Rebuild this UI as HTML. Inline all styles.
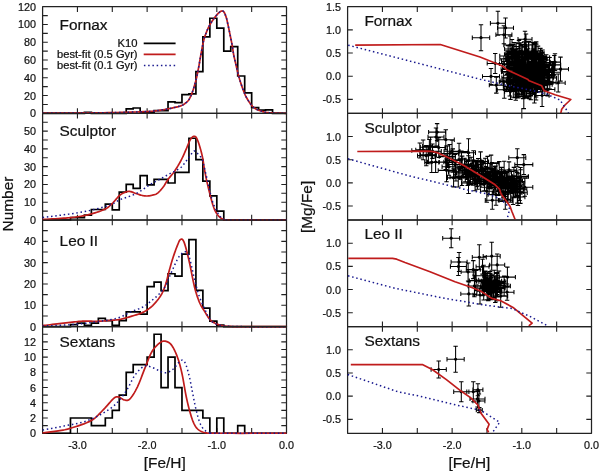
<!DOCTYPE html>
<html><head><meta charset="utf-8"><title>Chemical evolution fits</title>
<style>
html,body{margin:0;padding:0;background:#fff;width:600px;height:472px;overflow:hidden}
svg{display:block;font-family:"Liberation Sans", sans-serif;will-change:transform}
text{font-family:"Liberation Sans", sans-serif;stroke:#111;stroke-width:0.22px;paint-order:stroke}
</style></head><body>
<svg width="600" height="472" viewBox="0 0 600 472" font-family='"Liberation Sans", sans-serif' fill="#111" stroke="none">
<rect width="600" height="472" fill="#fff"/>
<rect x="42.6" y="6.7" width="243.9" height="106.63" fill="none" stroke="#222" stroke-width="1.25" stroke-linejoin="round"/>
<path d="M42.6 104.44h5.2M286.5 104.44h-5.2M42.6 95.56h5.2M286.5 95.56h-5.2M42.6 86.67h5.2M286.5 86.67h-5.2M42.6 77.79h5.2M286.5 77.79h-5.2M42.6 68.9h5.2M286.5 68.9h-5.2M42.6 60.02h5.2M286.5 60.02h-5.2M42.6 51.13h5.2M286.5 51.13h-5.2M42.6 42.24h5.2M286.5 42.24h-5.2M42.6 33.36h5.2M286.5 33.36h-5.2M42.6 24.47h5.2M286.5 24.47h-5.2M42.6 15.59h5.2M286.5 15.59h-5.2M77.44 113.33v-5.2M77.44 6.7v5.2M112.29 113.33v-5.2M112.29 6.7v5.2M147.13 113.33v-5.2M147.13 6.7v5.2M181.97 113.33v-5.2M181.97 6.7v5.2M216.81 113.33v-5.2M216.81 6.7v5.2M251.66 113.33v-5.2M251.66 6.7v5.2" stroke="#222" stroke-width="1.1" fill="none"/>
<text x="36" y="117.33" font-size="10.8" text-anchor="end">0</text>
<text x="36" y="99.56" font-size="10.8" text-anchor="end">20</text>
<text x="36" y="81.79" font-size="10.8" text-anchor="end">40</text>
<text x="36" y="64.02" font-size="10.8" text-anchor="end">60</text>
<text x="36" y="46.24" font-size="10.8" text-anchor="end">80</text>
<text x="36" y="28.47" font-size="10.8" text-anchor="end">100</text>
<text x="36" y="10.7" font-size="10.8" text-anchor="end">120</text>
<text x="59.6" y="29.8" font-size="15.4" text-anchor="start">Fornax</text>
<path d="M42.6 113.33 L84.41 113.33 L84.41 112.44 L91.38 112.44 L91.38 113.33 L126.22 113.33 L126.22 108.89 L133.19 108.89 L133.19 108 L140.16 108 L140.16 112.44 L154.1 112.44 L154.1 110.66 L168.03 110.66 L168.03 101.78 L175 101.78 L175 102.67 L181.97 102.67 L181.97 94.67 L188.94 94.67 L188.94 93.78 L195.91 93.78 L195.91 71.57 L202.88 71.57 L202.88 36.91 L209.85 36.91 L209.85 18.25 L216.81 18.25 L216.81 28.03 L223.78 28.03 L223.78 51.13 L230.75 51.13 L230.75 46.69 L237.72 46.69 L237.72 76.01 L244.69 76.01 L244.69 92.89 L251.66 92.89 L251.66 107.55 L258.63 107.55 L258.63 110.22 L265.59 110.22 L265.59 109.78 L272.56 109.78 L272.56 113.33 L286.5 113.33" fill="none" stroke="#000" stroke-width="1.7" stroke-linejoin="miter"/>
<path d="M42.6 113.15 L45.29 113.14 L48.86 113.12 L53.11 113.11 L57.84 113.09 L62.85 113.06 L67.92 113.04 L72.85 113.01 L77.44 112.97 L81.8 112.94 L86.15 112.91 L90.51 112.89 L94.86 112.85 L99.22 112.81 L103.57 112.76 L107.93 112.7 L112.29 112.62 L116.78 112.52 L121.49 112.41 L126.27 112.29 L131.01 112.15 L135.59 112.01 L139.89 111.86 L143.77 111.71 L147.13 111.55 L149.87 111.4 L152.08 111.25 L153.89 111.1 L155.4 110.95 L156.76 110.78 L158.07 110.59 L159.47 110.38 L161.07 110.13 L162.86 109.85 L164.71 109.52 L166.6 109.16 L168.47 108.79 L170.29 108.42 L172.01 108.05 L173.59 107.7 L175 107.38 L176.23 107.09 L177.32 106.82 L178.28 106.57 L179.14 106.32 L179.92 106.08 L180.64 105.84 L181.31 105.59 L181.97 105.33 L182.57 105.07 L183.09 104.82 L183.53 104.57 L183.93 104.32 L184.3 104.05 L184.67 103.76 L185.04 103.45 L185.46 103.11 L185.89 102.76 L186.33 102.41 L186.76 102.05 L187.2 101.67 L187.63 101.24 L188.07 100.76 L188.5 100.2 L188.94 99.56 L189.38 98.83 L189.81 98.04 L190.25 97.19 L190.68 96.28 L191.12 95.3 L191.55 94.27 L191.99 93.17 L192.42 92 L192.86 90.76 L193.31 89.44 L193.76 88.04 L194.21 86.59 L194.65 85.09 L195.09 83.56 L195.51 82.01 L195.91 80.45 L196.3 78.86 L196.67 77.21 L197.04 75.52 L197.39 73.81 L197.73 72.1 L198.06 70.4 L198.39 68.73 L198.7 67.12 L198.99 65.58 L199.25 64.1 L199.5 62.66 L199.74 61.23 L199.98 59.79 L200.23 58.32 L200.5 56.81 L200.79 55.22 L201.1 53.52 L201.43 51.71 L201.77 49.85 L202.11 47.96 L202.47 46.09 L202.84 44.28 L203.2 42.57 L203.57 41 L203.94 39.58 L204.31 38.27 L204.68 37.05 L205.05 35.89 L205.44 34.78 L205.84 33.69 L206.27 32.6 L206.71 31.49 L207.17 30.37 L207.65 29.26 L208.15 28.17 L208.66 27.09 L209.19 26.03 L209.74 24.99 L210.3 23.97 L210.89 22.96 L211.52 21.96 L212.2 20.94 L212.91 19.93 L213.64 18.95 L214.36 18 L215.04 17.12 L215.68 16.3 L216.26 15.59 L216.76 14.97 L217.21 14.43 L217.62 13.97 L217.99 13.56 L218.35 13.21 L218.7 12.89 L219.04 12.59 L219.39 12.3 L219.75 12.02 L220.1 11.76 L220.45 11.54 L220.78 11.34 L221.11 11.18 L221.43 11.07 L221.74 10.99 L222.04 10.97 L222.33 10.98 L222.6 11.02 L222.86 11.09 L223.12 11.22 L223.37 11.39 L223.62 11.62 L223.87 11.92 L224.13 12.3 L224.4 12.77 L224.68 13.32 L224.96 13.96 L225.25 14.65 L225.52 15.38 L225.79 16.13 L226.05 16.88 L226.29 17.63 L226.51 18.35 L226.7 19.05 L226.88 19.76 L227.05 20.5 L227.23 21.27 L227.41 22.1 L227.6 23.02 L227.82 24.03 L228.07 25.16 L228.34 26.4 L228.62 27.72 L228.9 29.1 L229.2 30.51 L229.49 31.93 L229.78 33.33 L230.05 34.69 L230.33 36.02 L230.6 37.36 L230.87 38.7 L231.14 40.03 L231.4 41.36 L231.66 42.68 L231.91 43.98 L232.15 45.26 L232.37 46.53 L232.57 47.77 L232.76 49 L232.94 50.22 L233.13 51.43 L233.32 52.64 L233.52 53.84 L233.75 55.04 L233.99 56.24 L234.26 57.45 L234.53 58.66 L234.81 59.86 L235.1 61.05 L235.38 62.21 L235.65 63.35 L235.91 64.46 L236.14 65.51 L236.36 66.52 L236.57 67.48 L236.77 68.43 L236.98 69.39 L237.21 70.36 L237.45 71.38 L237.72 72.46 L238.01 73.58 L238.32 74.73 L238.63 75.91 L238.97 77.12 L239.32 78.36 L239.69 79.62 L240.09 80.91 L240.51 82.23 L240.97 83.62 L241.47 85.11 L242 86.65 L242.55 88.2 L243.11 89.73 L243.66 91.2 L244.19 92.56 L244.69 93.78 L245.16 94.86 L245.61 95.83 L246.05 96.72 L246.47 97.53 L246.9 98.29 L247.32 99.02 L247.74 99.73 L248.17 100.45 L248.61 101.15 L249.04 101.83 L249.48 102.49 L249.91 103.11 L250.35 103.71 L250.79 104.28 L251.22 104.82 L251.66 105.33 L252.09 105.82 L252.53 106.27 L252.96 106.69 L253.4 107.08 L253.83 107.45 L254.27 107.8 L254.71 108.13 L255.14 108.44 L255.55 108.73 L255.93 108.97 L256.29 109.2 L256.67 109.4 L257.06 109.59 L257.51 109.79 L258.02 109.99 L258.63 110.22 L259.33 110.47 L260.12 110.74 L260.98 111.03 L261.89 111.31 L262.83 111.58 L263.77 111.84 L264.7 112.07 L265.59 112.26 L266.42 112.42 L267.17 112.54 L267.9 112.64 L268.64 112.72 L269.44 112.79 L270.33 112.85 L271.36 112.91 L272.56 112.97 L274.07 113.04 L275.88 113.1 L277.89 113.15 L279.97 113.2 L281.99 113.24 L283.83 113.27 L285.38 113.31 L286.5 113.33" fill="none" stroke="#c01c1c" stroke-width="1.7"/>
<path d="M42.6 113.15 L45.29 113.14 L48.86 113.12 L53.11 113.11 L57.84 113.09 L62.85 113.06 L67.92 113.04 L72.85 113.01 L77.44 112.97 L81.8 112.94 L86.15 112.91 L90.51 112.89 L94.86 112.85 L99.22 112.81 L103.57 112.76 L107.93 112.7 L112.29 112.62 L116.78 112.52 L121.49 112.41 L126.27 112.29 L131.01 112.15 L135.59 112.01 L139.89 111.86 L143.77 111.71 L147.13 111.55 L149.87 111.4 L152.08 111.25 L153.89 111.1 L155.4 110.95 L156.76 110.78 L158.07 110.59 L159.47 110.38 L161.07 110.13 L162.86 109.85 L164.71 109.52 L166.6 109.16 L168.47 108.79 L170.29 108.42 L172.01 108.05 L173.59 107.7 L175 107.38 L176.23 107.09 L177.32 106.82 L178.28 106.57 L179.14 106.32 L179.92 106.08 L180.64 105.84 L181.31 105.59 L181.97 105.33 L182.57 105.07 L183.09 104.82 L183.53 104.57 L183.93 104.32 L184.3 104.05 L184.67 103.76 L185.04 103.45 L185.46 103.11 L185.89 102.76 L186.33 102.41 L186.76 102.05 L187.2 101.67 L187.63 101.24 L188.07 100.76 L188.5 100.2 L188.94 99.56 L189.38 98.83 L189.81 98.04 L190.25 97.19 L190.68 96.28 L191.12 95.3 L191.55 94.27 L191.99 93.17 L192.42 92 L192.86 90.76 L193.31 89.44 L193.76 88.04 L194.21 86.59 L194.65 85.09 L195.09 83.56 L195.51 82.01 L195.91 80.45 L196.3 78.86 L196.67 77.21 L197.04 75.52 L197.39 73.81 L197.73 72.1 L198.06 70.4 L198.39 68.73 L198.7 67.12 L198.99 65.58 L199.25 64.1 L199.5 62.66 L199.74 61.23 L199.98 59.79 L200.23 58.32 L200.5 56.81 L200.79 55.22 L201.1 53.52 L201.43 51.71 L201.77 49.85 L202.11 47.96 L202.47 46.09 L202.84 44.28 L203.2 42.57 L203.57 41 L203.94 39.58 L204.31 38.27 L204.68 37.05 L205.05 35.89 L205.44 34.78 L205.84 33.69 L206.27 32.6 L206.71 31.49 L207.17 30.37 L207.65 29.26 L208.15 28.17 L208.66 27.09 L209.19 26.03 L209.74 24.99 L210.3 23.97 L210.89 22.96 L211.52 21.96 L212.2 20.94 L212.91 19.93 L213.64 18.95 L214.36 18 L215.04 17.12 L215.68 16.3 L216.26 15.59 L216.76 14.97 L217.21 14.43 L217.62 13.97 L217.99 13.56 L218.35 13.21 L218.7 12.89 L219.04 12.59 L219.39 12.3 L219.75 12.02 L220.1 11.76 L220.45 11.54 L220.78 11.34 L221.11 11.18 L221.43 11.07 L221.74 10.99 L222.04 10.97 L222.33 10.98 L222.6 11.02 L222.86 11.09 L223.12 11.22 L223.37 11.39 L223.62 11.62 L223.87 11.92 L224.13 12.3 L224.4 12.77 L224.68 13.32 L224.96 13.96 L225.25 14.65 L225.52 15.38 L225.79 16.13 L226.05 16.88 L226.29 17.63 L226.51 18.35 L226.7 19.05 L226.88 19.76 L227.05 20.5 L227.23 21.27 L227.41 22.1 L227.6 23.02 L227.82 24.03 L228.07 25.16 L228.34 26.4 L228.62 27.72 L228.9 29.1 L229.2 30.51 L229.49 31.93 L229.78 33.33 L230.05 34.69 L230.33 36.02 L230.6 37.36 L230.87 38.7 L231.14 40.03 L231.4 41.36 L231.66 42.68 L231.91 43.98 L232.15 45.26 L232.37 46.53 L232.57 47.77 L232.76 49 L232.94 50.22 L233.13 51.43 L233.32 52.64 L233.52 53.84 L233.75 55.04 L233.99 56.24 L234.26 57.45 L234.53 58.66 L234.81 59.86 L235.1 61.05 L235.38 62.21 L235.65 63.35 L235.91 64.46 L236.14 65.51 L236.36 66.52 L236.57 67.48 L236.77 68.43 L236.98 69.39 L237.21 70.36 L237.45 71.38 L237.72 72.46 L238.01 73.58 L238.32 74.73 L238.63 75.91 L238.97 77.12 L239.32 78.36 L239.69 79.62 L240.09 80.91 L240.51 82.23 L240.97 83.62 L241.47 85.11 L242 86.65 L242.55 88.2 L243.11 89.73 L243.66 91.2 L244.19 92.56 L244.69 93.78 L245.16 94.86 L245.61 95.83 L246.05 96.72 L246.47 97.53 L246.9 98.29 L247.32 99.02 L247.74 99.73 L248.17 100.45 L248.61 101.15 L249.04 101.83 L249.48 102.49 L249.91 103.11 L250.35 103.71 L250.79 104.28 L251.22 104.82 L251.66 105.33 L252.09 105.82 L252.53 106.27 L252.96 106.69 L253.4 107.08 L253.83 107.45 L254.27 107.8 L254.71 108.13 L255.14 108.44 L255.55 108.73 L255.93 108.97 L256.29 109.2 L256.67 109.4 L257.06 109.59 L257.51 109.79 L258.02 109.99 L258.63 110.22 L259.33 110.47 L260.12 110.74 L260.98 111.03 L261.89 111.31 L262.83 111.58 L263.77 111.84 L264.7 112.07 L265.59 112.26 L266.42 112.42 L267.17 112.54 L267.9 112.64 L268.64 112.72 L269.44 112.79 L270.33 112.85 L271.36 112.91 L272.56 112.97 L274.07 113.04 L275.88 113.1 L277.89 113.15 L279.97 113.2 L281.99 113.24 L283.83 113.27 L285.38 113.31 L286.5 113.33" fill="none" stroke="#18188e" stroke-width="1.5" stroke-dasharray="1.5 2.75"/>
<rect x="42.6" y="113.35" width="243.9" height="106.63" fill="none" stroke="#222" stroke-width="1.25" stroke-linejoin="round"/>
<path d="M42.6 211.09h5.2M286.5 211.09h-5.2M42.6 202.21h5.2M286.5 202.21h-5.2M42.6 193.32h5.2M286.5 193.32h-5.2M42.6 184.44h5.2M286.5 184.44h-5.2M42.6 175.55h5.2M286.5 175.55h-5.2M42.6 166.66h5.2M286.5 166.66h-5.2M42.6 157.78h5.2M286.5 157.78h-5.2M42.6 148.89h5.2M286.5 148.89h-5.2M42.6 140.01h5.2M286.5 140.01h-5.2M42.6 131.12h5.2M286.5 131.12h-5.2M42.6 122.24h5.2M286.5 122.24h-5.2M77.44 219.98v-5.2M77.44 113.35v5.2M112.29 219.98v-5.2M112.29 113.35v5.2M147.13 219.98v-5.2M147.13 113.35v5.2M181.97 219.98v-5.2M181.97 113.35v5.2M216.81 219.98v-5.2M216.81 113.35v5.2M251.66 219.98v-5.2M251.66 113.35v5.2" stroke="#222" stroke-width="1.1" fill="none"/>
<text x="36" y="223.98" font-size="10.8" text-anchor="end">0</text>
<text x="36" y="206.21" font-size="10.8" text-anchor="end">10</text>
<text x="36" y="188.44" font-size="10.8" text-anchor="end">20</text>
<text x="36" y="170.66" font-size="10.8" text-anchor="end">30</text>
<text x="36" y="152.89" font-size="10.8" text-anchor="end">40</text>
<text x="36" y="135.12" font-size="10.8" text-anchor="end">50</text>
<text x="59.6" y="136.4" font-size="15.4" text-anchor="start">Sculptor</text>
<path d="M42.6 219.98 L70.47 219.98 L70.47 217.67 L84.41 217.67 L84.41 215.18 L91.38 215.18 L91.38 209.49 L105.32 209.49 L105.32 204.16 L112.29 204.16 L112.29 209.85 L119.25 209.85 L119.25 192.08 L126.22 192.08 L126.22 184.44 L133.19 184.44 L133.19 188.35 L140.16 188.35 L140.16 175.55 L147.13 175.55 L147.13 184.79 L154.1 184.79 L154.1 179.46 L168.03 179.46 L168.03 183.01 L175 183.01 L175 172.35 L188.94 172.35 L188.94 138.23 L195.91 138.23 L195.91 159.56 L202.88 159.56 L202.88 181.06 L209.85 181.06 L209.85 195.81 L216.81 195.81 L216.81 211.09 L223.78 211.09 L223.78 219.98 L286.5 219.98" fill="none" stroke="#000" stroke-width="1.7" stroke-linejoin="miter"/>
<path d="M42.6 219.45 L44.26 219.35 L46.52 219.23 L49.21 219.08 L52.18 218.91 L55.26 218.74 L58.28 218.56 L61.08 218.38 L63.51 218.2 L65.58 218.04 L67.48 217.89 L69.24 217.75 L70.91 217.59 L72.52 217.43 L74.12 217.24 L75.75 217.03 L77.44 216.78 L79.18 216.51 L80.93 216.22 L82.67 215.91 L84.41 215.58 L86.15 215.22 L87.9 214.83 L89.64 214.4 L91.38 213.94 L93.17 213.42 L95.03 212.86 L96.91 212.25 L98.78 211.62 L100.6 210.96 L102.32 210.29 L103.91 209.62 L105.32 208.96 L106.52 208.32 L107.53 207.69 L108.41 207.06 L109.19 206.42 L109.93 205.75 L110.66 205.04 L111.43 204.28 L112.29 203.45 L113.22 202.51 L114.19 201.44 L115.17 200.3 L116.16 199.13 L117.15 197.98 L118.12 196.89 L119.05 195.92 L119.95 195.1 L120.82 194.43 L121.67 193.87 L122.5 193.4 L123.3 193 L124.09 192.67 L124.83 192.38 L125.55 192.13 L126.22 191.9 L126.84 191.7 L127.38 191.56 L127.88 191.46 L128.36 191.4 L128.83 191.38 L129.31 191.41 L129.83 191.46 L130.4 191.55 L131.03 191.68 L131.68 191.87 L132.36 192.11 L133.06 192.38 L133.78 192.67 L134.5 192.96 L135.24 193.24 L135.98 193.5 L136.74 193.75 L137.53 194.02 L138.34 194.3 L139.16 194.57 L139.97 194.83 L140.76 195.07 L141.53 195.28 L142.25 195.46 L142.92 195.6 L143.55 195.72 L144.15 195.82 L144.73 195.9 L145.31 195.95 L145.89 195.99 L146.5 196 L147.13 195.99 L147.8 195.95 L148.49 195.89 L149.2 195.81 L149.92 195.7 L150.63 195.57 L151.34 195.43 L152.04 195.27 L152.7 195.1 L153.34 194.93 L153.96 194.78 L154.55 194.62 L155.14 194.44 L155.73 194.22 L156.33 193.95 L156.94 193.59 L157.58 193.14 L158.25 192.6 L158.94 191.96 L159.65 191.26 L160.36 190.49 L161.08 189.68 L161.79 188.83 L162.48 187.97 L163.16 187.1 L163.8 186.21 L164.42 185.28 L165.02 184.31 L165.62 183.31 L166.22 182.31 L166.84 181.29 L167.49 180.28 L168.17 179.28 L168.9 178.31 L169.66 177.36 L170.45 176.41 L171.26 175.46 L172.07 174.49 L172.89 173.48 L173.71 172.41 L174.52 171.29 L175.32 170.09 L176.14 168.83 L176.96 167.52 L177.79 166.18 L178.6 164.8 L179.4 163.41 L180.18 162.02 L180.93 160.62 L181.65 159.21 L182.35 157.75 L183.04 156.27 L183.71 154.78 L184.37 153.3 L185 151.84 L185.62 150.43 L186.22 149.07 L186.8 147.73 L187.36 146.38 L187.89 145.05 L188.41 143.75 L188.92 142.52 L189.42 141.38 L189.91 140.35 L190.4 139.47 L190.9 138.73 L191.39 138.1 L191.87 137.57 L192.35 137.14 L192.81 136.8 L193.26 136.55 L193.69 136.38 L194.1 136.28 L194.47 136.24 L194.82 136.28 L195.14 136.4 L195.46 136.61 L195.76 136.91 L196.07 137.3 L196.4 137.8 L196.74 138.41 L197.12 139.15 L197.51 140.04 L197.91 141.05 L198.31 142.15 L198.72 143.32 L199.12 144.52 L199.51 145.73 L199.88 146.94 L200.24 148.14 L200.59 149.37 L200.93 150.63 L201.27 151.91 L201.6 153.24 L201.92 154.59 L202.23 155.99 L202.53 157.42 L202.81 158.9 L203.07 160.41 L203.31 161.95 L203.54 163.53 L203.78 165.15 L204.04 166.8 L204.31 168.49 L204.62 170.22 L204.94 171.96 L205.27 173.7 L205.61 175.46 L205.97 177.26 L206.35 179.13 L206.78 181.08 L207.24 183.14 L207.76 185.33 L208.34 187.75 L208.99 190.43 L209.7 193.28 L210.43 196.18 L211.18 199.03 L211.93 201.74 L212.65 204.2 L213.33 206.3 L213.97 208.05 L214.58 209.56 L215.18 210.85 L215.77 211.98 L216.36 212.98 L216.96 213.88 L217.57 214.72 L218.21 215.54 L218.86 216.3 L219.52 216.97 L220.19 217.54 L220.86 218.04 L221.56 218.46 L222.27 218.83 L223.01 219.16 L223.78 219.45 L224.25 219.68 L224.28 219.83 L224.15 219.92 L224.13 219.96 L224.5 219.97 L225.55 219.96 L227.54 219.96 L230.75 219.98 L235.77 220.01 L242.57 220.02 L250.53 220.02 L259.06 220.01 L267.53 220 L275.34 219.99 L281.87 219.98 L286.5 219.98" fill="none" stroke="#c01c1c" stroke-width="1.7"/>
<path d="M42.6 217.49 L45.38 217.13 L49.19 216.66 L53.73 216.09 L58.71 215.46 L63.87 214.79 L68.9 214.12 L73.52 213.47 L77.44 212.87 L80.77 212.31 L83.81 211.75 L86.61 211.19 L89.2 210.64 L91.63 210.09 L93.94 209.53 L96.16 208.98 L98.35 208.43 L100.47 207.87 L102.47 207.31 L104.36 206.75 L106.14 206.2 L107.82 205.64 L109.41 205.08 L110.89 204.53 L112.29 203.99 L113.49 203.46 L114.45 202.95 L115.25 202.45 L115.99 201.95 L116.74 201.44 L117.59 200.91 L118.64 200.34 L119.95 199.72 L121.57 199.07 L123.44 198.39 L125.47 197.69 L127.62 196.97 L129.81 196.2 L131.97 195.41 L134.05 194.56 L135.98 193.68 L137.78 192.71 L139.54 191.66 L141.26 190.55 L142.93 189.41 L144.56 188.27 L146.15 187.16 L147.7 186.11 L149.22 185.15 L150.7 184.27 L152.12 183.44 L153.51 182.66 L154.86 181.92 L156.18 181.2 L157.48 180.49 L158.75 179.8 L160.02 179.11 L161.28 178.41 L162.52 177.72 L163.75 177.04 L164.95 176.38 L166.12 175.74 L167.27 175.12 L168.37 174.52 L169.43 173.95 L170.45 173.41 L171.43 172.91 L172.39 172.42 L173.3 171.96 L174.19 171.52 L175.03 171.08 L175.84 170.65 L176.61 170.22 L177.32 169.81 L177.99 169.43 L178.61 169.07 L179.19 168.72 L179.76 168.35 L180.31 167.96 L180.86 167.52 L181.41 167.02 L181.98 166.45 L182.53 165.82 L183.07 165.15 L183.61 164.44 L184.14 163.73 L184.65 163.02 L185.16 162.34 L185.66 161.69 L186.15 161.08 L186.63 160.5 L187.09 159.94 L187.55 159.38 L188 158.82 L188.45 158.26 L188.9 157.68 L189.36 157.07 L189.83 156.4 L190.32 155.67 L190.81 154.91 L191.3 154.15 L191.78 153.42 L192.24 152.75 L192.66 152.18 L193.05 151.74 L193.4 151.43 L193.71 151.22 L194 151.09 L194.27 151.04 L194.51 151.04 L194.75 151.07 L194.98 151.14 L195.21 151.2 L195.42 151.29 L195.6 151.42 L195.76 151.58 L195.92 151.78 L196.08 152.01 L196.26 152.25 L196.48 152.52 L196.74 152.8 L197.06 153.1 L197.43 153.42 L197.82 153.75 L198.24 154.11 L198.67 154.5 L199.09 154.91 L199.5 155.35 L199.88 155.82 L200.23 156.27 L200.55 156.65 L200.86 157.02 L201.16 157.45 L201.47 157.96 L201.79 158.63 L202.14 159.5 L202.53 160.62 L202.93 161.98 L203.35 163.5 L203.77 165.19 L204.22 167.05 L204.69 169.08 L205.2 171.26 L205.76 173.59 L206.36 176.08 L207.02 178.88 L207.74 182.04 L208.5 185.45 L209.3 188.97 L210.12 192.48 L210.96 195.85 L211.8 198.96 L212.63 201.68 L213.48 204.05 L214.36 206.23 L215.26 208.23 L216.16 210.05 L217.06 211.7 L217.94 213.19 L218.79 214.52 L219.6 215.71 L220.37 216.71 L221.09 217.49 L221.79 218.08 L222.48 218.52 L223.15 218.86 L223.82 219.13 L224.49 219.38 L225.18 219.62 L225.53 219.84 L225.39 219.97 L225.06 220.03 L224.83 220.05 L224.99 220.03 L225.83 220 L227.65 219.98 L230.75 219.98 L235.7 220 L242.47 220 L250.43 220.01 L258.97 220 L267.47 220 L275.31 219.99 L281.86 219.98 L286.5 219.98" fill="none" stroke="#18188e" stroke-width="1.5" stroke-dasharray="1.5 2.75"/>
<rect x="42.6" y="220" width="243.9" height="106.63" fill="none" stroke="#222" stroke-width="1.25" stroke-linejoin="round"/>
<path d="M42.6 315.97h5.2M286.5 315.97h-5.2M42.6 305.3h5.2M286.5 305.3h-5.2M42.6 294.64h5.2M286.5 294.64h-5.2M42.6 283.98h5.2M286.5 283.98h-5.2M42.6 273.31h5.2M286.5 273.31h-5.2M42.6 262.65h5.2M286.5 262.65h-5.2M42.6 251.99h5.2M286.5 251.99h-5.2M42.6 241.33h5.2M286.5 241.33h-5.2M42.6 230.66h5.2M286.5 230.66h-5.2M77.44 326.63v-5.2M77.44 220v5.2M112.29 326.63v-5.2M112.29 220v5.2M147.13 326.63v-5.2M147.13 220v5.2M181.97 326.63v-5.2M181.97 220v5.2M216.81 326.63v-5.2M216.81 220v5.2M251.66 326.63v-5.2M251.66 220v5.2" stroke="#222" stroke-width="1.1" fill="none"/>
<text x="36" y="330.63" font-size="10.8" text-anchor="end">0</text>
<text x="36" y="309.3" font-size="10.8" text-anchor="end">10</text>
<text x="36" y="287.98" font-size="10.8" text-anchor="end">20</text>
<text x="36" y="266.65" font-size="10.8" text-anchor="end">30</text>
<text x="36" y="245.33" font-size="10.8" text-anchor="end">40</text>
<text x="59.6" y="246.4" font-size="15.4" text-anchor="start">Leo II</text>
<path d="M42.6 326.63 L70.47 326.63 L70.47 324.71 L77.44 324.71 L77.44 323.22 L84.41 323.22 L84.41 325.35 L91.38 325.35 L91.38 323.22 L98.35 323.22 L98.35 318.31 L105.32 318.31 L105.32 320.66 L112.29 320.66 L112.29 325.35 L119.25 325.35 L119.25 320.66 L126.22 320.66 L126.22 311.92 L140.16 311.92 L140.16 314.05 L147.13 314.05 L147.13 286.54 L154.1 286.54 L154.1 282.06 L161.07 282.06 L161.07 290.59 L168.03 290.59 L168.03 273.74 L175 273.74 L175 276.09 L181.97 276.09 L181.97 254.12 L188.94 254.12 L188.94 239.62 L195.91 239.62 L195.91 290.38 L202.88 290.38 L202.88 308.08 L209.85 308.08 L209.85 321.09 L216.81 321.09 L216.81 325.14 L223.78 325.14 L223.78 326.63 L286.5 326.63" fill="none" stroke="#000" stroke-width="1.7" stroke-linejoin="miter"/>
<path d="M42.6 325.56 L43.89 325.42 L45.61 325.22 L47.65 324.98 L49.92 324.72 L52.32 324.45 L54.75 324.17 L57.12 323.9 L59.32 323.64 L61.46 323.4 L63.67 323.13 L65.9 322.87 L68.12 322.6 L70.29 322.35 L72.36 322.11 L74.29 321.9 L76.05 321.73 L77.59 321.58 L78.93 321.46 L80.13 321.35 L81.23 321.27 L82.3 321.21 L83.38 321.16 L84.53 321.12 L85.81 321.09 L87.17 321.08 L88.55 321.11 L89.97 321.16 L91.42 321.22 L92.91 321.27 L94.45 321.32 L96.02 321.33 L97.65 321.3 L99.4 321.22 L101.28 321.12 L103.24 320.98 L105.23 320.83 L107.19 320.67 L109.05 320.51 L110.77 320.36 L112.29 320.23 L113.55 320.13 L114.59 320.06 L115.49 320 L116.29 319.94 L117.08 319.86 L117.9 319.75 L118.84 319.6 L119.95 319.38 L121.23 319.1 L122.63 318.76 L124.1 318.39 L125.63 317.98 L127.2 317.55 L128.76 317.09 L130.3 316.64 L131.8 316.18 L133.27 315.73 L134.75 315.29 L136.23 314.84 L137.7 314.37 L139.15 313.87 L140.58 313.34 L141.96 312.76 L143.3 312.13 L144.58 311.45 L145.82 310.75 L147.02 310.01 L148.2 309.22 L149.34 308.39 L150.47 307.5 L151.59 306.54 L152.7 305.52 L153.82 304.4 L154.96 303.18 L156.08 301.89 L157.19 300.55 L158.26 299.17 L159.27 297.78 L160.21 296.41 L161.07 295.07 L161.82 293.76 L162.49 292.48 L163.09 291.2 L163.64 289.91 L164.14 288.6 L164.63 287.26 L165.11 285.86 L165.6 284.4 L166.08 282.87 L166.53 281.28 L166.96 279.63 L167.38 277.95 L167.79 276.25 L168.21 274.55 L168.63 272.85 L169.08 271.18 L169.54 269.53 L170 267.86 L170.46 266.2 L170.93 264.53 L171.41 262.87 L171.9 261.22 L172.4 259.58 L172.91 257.96 L173.45 256.31 L174.03 254.61 L174.62 252.9 L175.22 251.22 L175.81 249.58 L176.39 248.04 L176.94 246.63 L177.44 245.38 L177.9 244.26 L178.32 243.22 L178.7 242.27 L179.08 241.43 L179.44 240.71 L179.8 240.13 L180.18 239.69 L180.58 239.41 L180.99 239.23 L181.39 239.13 L181.8 239.13 L182.21 239.29 L182.64 239.63 L183.08 240.2 L183.56 241.04 L184.06 242.18 L184.6 243.65 L185.17 245.43 L185.76 247.48 L186.37 249.75 L187 252.21 L187.64 254.81 L188.29 257.53 L188.94 260.31 L189.61 263.31 L190.3 266.64 L191.01 270.18 L191.73 273.82 L192.44 277.44 L193.15 280.91 L193.85 284.12 L194.51 286.96 L195.16 289.45 L195.78 291.71 L196.4 293.77 L197 295.65 L197.59 297.4 L198.19 299.04 L198.79 300.6 L199.39 302.11 L199.99 303.5 L200.56 304.71 L201.13 305.8 L201.7 306.8 L202.29 307.76 L202.9 308.72 L203.56 309.74 L204.27 310.85 L205.02 312.08 L205.8 313.39 L206.61 314.76 L207.45 316.13 L208.33 317.46 L209.25 318.73 L210.22 319.88 L211.24 320.87 L212.33 321.72 L213.48 322.46 L214.69 323.11 L215.94 323.67 L217.21 324.16 L218.49 324.6 L219.76 324.99 L221 325.35 L222.19 325.65 L223.34 325.88 L224.47 326.04 L225.61 326.15 L226.79 326.23 L228.02 326.29 L229.33 326.35 L230.75 326.42 L232.1 326.49 L233.29 326.54 L234.45 326.57 L235.72 326.59 L237.24 326.6 L239.15 326.61 L241.58 326.62 L244.69 326.63 L248.87 326.64 L254.16 326.64 L260.16 326.65 L266.47 326.64 L272.66 326.64 L278.33 326.63 L283.08 326.63 L286.5 326.63" fill="none" stroke="#c01c1c" stroke-width="1.7"/>
<path d="M42.6 325.99 L43.89 325.94 L45.61 325.89 L47.65 325.82 L49.92 325.74 L52.32 325.65 L54.75 325.56 L57.12 325.46 L59.32 325.35 L61.42 325.24 L63.51 325.13 L65.6 325.02 L67.69 324.9 L69.78 324.77 L71.87 324.62 L73.96 324.46 L76.05 324.28 L78.14 324.09 L80.23 323.88 L82.32 323.65 L84.41 323.42 L86.5 323.17 L88.59 322.91 L90.68 322.64 L92.77 322.36 L94.91 322.08 L97.1 321.77 L99.32 321.45 L101.53 321.13 L103.69 320.79 L105.76 320.46 L107.71 320.13 L109.5 319.81 L111.1 319.51 L112.52 319.24 L113.82 318.99 L115.03 318.73 L116.2 318.44 L117.39 318.11 L118.62 317.72 L119.95 317.25 L121.37 316.67 L122.82 316.01 L124.31 315.27 L125.81 314.5 L127.32 313.71 L128.83 312.93 L130.32 312.18 L131.8 311.49 L133.27 310.87 L134.75 310.3 L136.23 309.75 L137.7 309.22 L139.15 308.68 L140.58 308.11 L141.96 307.49 L143.3 306.8 L144.59 306.03 L145.85 305.19 L147.08 304.3 L148.28 303.38 L149.45 302.45 L150.57 301.53 L151.66 300.62 L152.7 299.76 L153.7 298.94 L154.64 298.14 L155.54 297.36 L156.41 296.59 L157.24 295.81 L158.06 295.02 L158.87 294.21 L159.67 293.36 L160.48 292.49 L161.28 291.59 L162.08 290.68 L162.85 289.75 L163.6 288.81 L164.31 287.85 L164.98 286.88 L165.6 285.9 L166.15 284.89 L166.65 283.85 L167.1 282.78 L167.51 281.71 L167.91 280.64 L168.29 279.59 L168.68 278.56 L169.08 277.58 L169.48 276.65 L169.86 275.78 L170.24 274.94 L170.6 274.11 L170.98 273.28 L171.37 272.42 L171.78 271.52 L172.22 270.54 L172.7 269.47 L173.21 268.31 L173.75 267.09 L174.31 265.85 L174.86 264.62 L175.4 263.45 L175.92 262.35 L176.4 261.37 L176.82 260.52 L177.21 259.74 L177.56 259.05 L177.9 258.4 L178.25 257.79 L178.63 257.21 L179.05 256.63 L179.53 256.04 L180.09 255.4 L180.72 254.7 L181.39 253.99 L182.08 253.31 L182.78 252.7 L183.48 252.22 L184.14 251.89 L184.76 251.78 L185.32 251.77 L185.84 251.8 L186.34 251.92 L186.83 252.19 L187.32 252.68 L187.82 253.44 L188.36 254.54 L188.94 256.04 L189.58 258.09 L190.27 260.7 L190.99 263.71 L191.73 266.97 L192.47 270.31 L193.19 273.58 L193.88 276.63 L194.51 279.29 L195.09 281.6 L195.63 283.72 L196.12 285.71 L196.61 287.58 L197.09 289.37 L197.59 291.12 L198.12 292.87 L198.7 294.64 L199.32 296.42 L199.96 298.15 L200.62 299.85 L201.31 301.52 L202.02 303.17 L202.75 304.81 L203.5 306.44 L204.27 308.08 L205.06 309.76 L205.87 311.52 L206.69 313.29 L207.54 315.03 L208.41 316.71 L209.32 318.27 L210.26 319.67 L211.24 320.87 L212.26 321.85 L213.32 322.66 L214.42 323.31 L215.55 323.84 L216.71 324.29 L217.89 324.67 L219.09 325.01 L220.3 325.35 L221.51 325.65 L222.73 325.88 L223.96 326.04 L225.22 326.15 L226.52 326.23 L227.86 326.29 L229.27 326.35 L230.75 326.42 L232.14 326.49 L233.34 326.54 L234.5 326.57 L235.76 326.59 L237.27 326.6 L239.16 326.61 L241.59 326.62 L244.69 326.63 L248.87 326.64 L254.16 326.64 L260.16 326.65 L266.47 326.64 L272.66 326.64 L278.33 326.63 L283.08 326.63 L286.5 326.63" fill="none" stroke="#18188e" stroke-width="1.5" stroke-dasharray="1.5 2.75"/>
<rect x="42.6" y="326.62" width="243.9" height="106.63" fill="none" stroke="#222" stroke-width="1.25" stroke-linejoin="round"/>
<path d="M42.6 425.63h5.2M286.5 425.63h-5.2M42.6 418.02h5.2M286.5 418.02h-5.2M42.6 410.4h5.2M286.5 410.4h-5.2M42.6 402.78h5.2M286.5 402.78h-5.2M42.6 395.17h5.2M286.5 395.17h-5.2M42.6 387.55h5.2M286.5 387.55h-5.2M42.6 379.94h5.2M286.5 379.94h-5.2M42.6 372.32h5.2M286.5 372.32h-5.2M42.6 364.7h5.2M286.5 364.7h-5.2M42.6 357.09h5.2M286.5 357.09h-5.2M42.6 349.47h5.2M286.5 349.47h-5.2M42.6 341.85h5.2M286.5 341.85h-5.2M42.6 334.24h5.2M286.5 334.24h-5.2M77.44 433.25v-5.2M77.44 326.62v5.2M112.29 433.25v-5.2M112.29 326.62v5.2M147.13 433.25v-5.2M147.13 326.62v5.2M181.97 433.25v-5.2M181.97 326.62v5.2M216.81 433.25v-5.2M216.81 326.62v5.2M251.66 433.25v-5.2M251.66 326.62v5.2" stroke="#222" stroke-width="1.1" fill="none"/>
<text x="36" y="437.25" font-size="10.8" text-anchor="end">0</text>
<text x="36" y="422.02" font-size="10.8" text-anchor="end">2</text>
<text x="36" y="406.78" font-size="10.8" text-anchor="end">4</text>
<text x="36" y="391.55" font-size="10.8" text-anchor="end">6</text>
<text x="36" y="376.32" font-size="10.8" text-anchor="end">8</text>
<text x="36" y="361.09" font-size="10.8" text-anchor="end">10</text>
<text x="36" y="345.85" font-size="10.8" text-anchor="end">12</text>
<text x="59.6" y="346.8" font-size="15.4" text-anchor="start">Sextans</text>
<path d="M42.6 433.25 L70.47 433.25 L70.47 418.02 L91.38 418.02 L91.38 425.63 L105.32 425.63 L105.32 418.02 L112.29 418.02 L112.29 410.4 L119.25 410.4 L119.25 395.17 L126.22 395.17 L126.22 372.32 L133.19 372.32 L133.19 364.7 L147.13 364.7 L147.13 357.09 L154.1 357.09 L154.1 334.24 L161.07 334.24 L161.07 387.55 L168.03 387.55 L168.03 357.09 L175 357.09 L175 387.55 L181.97 387.55 L181.97 410.4 L202.88 410.4 L202.88 418.02 L209.85 418.02 L209.85 433.25 L216.81 433.25 L216.81 418.02 L223.78 418.02 L223.78 433.25 L237.72 433.25 L237.72 425.63 L244.69 425.63 L244.69 433.25 L286.5 433.25" fill="none" stroke="#000" stroke-width="1.7" stroke-linejoin="miter"/>
<path d="M42.6 432.89 L43.68 432.76 L45.1 432.6 L46.81 432.41 L48.7 432.18 L50.7 431.94 L52.73 431.68 L54.7 431.4 L56.54 431.12 L58.23 430.85 L59.86 430.6 L61.46 430.35 L63.07 430.07 L64.74 429.75 L66.5 429.36 L68.4 428.87 L70.47 428.27 L72.81 427.56 L75.41 426.75 L78.17 425.86 L81.01 424.9 L83.85 423.87 L86.58 422.78 L89.12 421.64 L91.38 420.45 L93.37 419.2 L95.17 417.84 L96.82 416.42 L98.35 414.95 L99.79 413.45 L101.18 411.96 L102.55 410.49 L103.92 409.08 L105.31 407.65 L106.67 406.15 L108 404.62 L109.28 403.13 L110.5 401.71 L111.65 400.42 L112.71 399.3 L113.68 398.42 L114.52 397.77 L115.23 397.31 L115.84 397.02 L116.38 396.86 L116.89 396.81 L117.4 396.83 L117.95 396.91 L118.56 397 L119.22 397.17 L119.9 397.49 L120.6 397.91 L121.3 398.37 L122.01 398.85 L122.72 399.28 L123.43 399.62 L124.13 399.84 L124.81 400 L125.48 400.18 L126.13 400.33 L126.79 400.42 L127.46 400.38 L128.17 400.19 L128.91 399.79 L129.71 399.13 L130.57 398.21 L131.48 397.07 L132.43 395.74 L133.41 394.24 L134.41 392.6 L135.41 390.83 L136.4 388.97 L137.37 387.04 L138.34 384.97 L139.31 382.68 L140.28 380.24 L141.25 377.71 L142.21 375.15 L143.17 372.62 L144.11 370.16 L145.04 367.85 L145.94 365.62 L146.81 363.38 L147.67 361.17 L148.52 359.01 L149.37 356.93 L150.23 354.97 L151.11 353.15 L152.01 351.5 L152.95 350.01 L153.92 348.66 L154.92 347.43 L155.93 346.32 L156.92 345.33 L157.89 344.44 L158.81 343.66 L159.67 342.97 L160.46 342.39 L161.2 341.92 L161.89 341.56 L162.55 341.3 L163.2 341.15 L163.85 341.08 L164.53 341.1 L165.25 341.19 L166 341.35 L166.77 341.58 L167.56 341.88 L168.36 342.28 L169.16 342.79 L169.96 343.42 L170.75 344.18 L171.52 345.1 L172.29 346.19 L173.06 347.45 L173.83 348.85 L174.59 350.37 L175.34 351.98 L176.07 353.67 L176.77 355.42 L177.44 357.19 L178.08 358.98 L178.68 360.82 L179.26 362.72 L179.82 364.7 L180.36 366.75 L180.9 368.9 L181.43 371.16 L181.97 373.54 L182.51 376.11 L183.04 378.91 L183.56 381.85 L184.08 384.87 L184.6 387.89 L185.12 390.85 L185.63 393.67 L186.15 396.28 L186.68 398.73 L187.2 401.08 L187.72 403.35 L188.24 405.53 L188.77 407.61 L189.29 409.61 L189.81 411.52 L190.33 413.35 L190.85 415.08 L191.36 416.72 L191.87 418.28 L192.38 419.74 L192.9 421.12 L193.42 422.41 L193.96 423.61 L194.51 424.72 L195.08 425.72 L195.64 426.62 L196.2 427.41 L196.78 428.12 L197.38 428.76 L198.01 429.34 L198.68 429.89 L199.39 430.41 L200.14 430.89 L200.91 431.3 L201.7 431.67 L202.53 431.98 L203.4 432.26 L204.33 432.5 L205.31 432.71 L206.36 432.89 L207.1 433.04 L207.34 433.14 L207.42 433.2 L207.67 433.23 L208.4 433.24 L209.95 433.24 L212.65 433.24 L216.81 433.25 L223.17 433.27 L231.7 433.27 L241.67 433.28 L252.31 433.27 L262.87 433.27 L272.59 433.26 L280.72 433.25 L286.5 433.25" fill="none" stroke="#c01c1c" stroke-width="1.7"/>
<path d="M42.6 430.12 L44.19 429.83 L46.27 429.45 L48.76 429 L51.53 428.49 L54.49 427.93 L57.54 427.35 L60.58 426.75 L63.51 426.14 L66.39 425.56 L69.37 425.01 L72.43 424.45 L75.53 423.85 L78.65 423.18 L81.77 422.42 L84.86 421.52 L87.9 420.45 L90.96 419.21 L94.1 417.82 L97.26 416.3 L100.4 414.68 L103.45 412.98 L106.37 411.22 L109.1 409.44 L111.59 407.66 L113.83 405.84 L115.87 403.97 L117.74 402.03 L119.47 400.06 L121.09 398.06 L122.61 396.05 L124.08 394.03 L125.53 392.02 L126.89 389.96 L128.13 387.82 L129.28 385.63 L130.36 383.44 L131.4 381.31 L132.43 379.27 L133.49 377.38 L134.59 375.67 L135.73 374.11 L136.9 372.63 L138.07 371.26 L139.25 370.01 L140.4 368.88 L141.53 367.9 L142.61 367.08 L143.64 366.43 L144.62 365.99 L145.53 365.78 L146.41 365.73 L147.26 365.83 L148.09 366.02 L148.92 366.27 L149.76 366.54 L150.61 366.78 L151.48 367.05 L152.34 367.39 L153.2 367.79 L154.05 368.23 L154.92 368.68 L155.79 369.14 L156.68 369.58 L157.58 369.98 L158.51 370.4 L159.45 370.87 L160.4 371.36 L161.37 371.83 L162.34 372.24 L163.31 372.57 L164.28 372.78 L165.25 372.83 L166.21 372.72 L167.16 372.5 L168.12 372.18 L169.08 371.76 L170.04 371.25 L171 370.66 L171.95 370 L172.91 369.27 L173.89 368.38 L174.91 367.26 L175.94 366 L176.96 364.7 L177.96 363.43 L178.91 362.29 L179.79 361.37 L180.58 360.74 L181.27 360.37 L181.87 360.13 L182.4 360.05 L182.89 360.12 L183.34 360.36 L183.8 360.77 L184.26 361.37 L184.76 362.16 L185.29 363.19 L185.82 364.46 L186.36 365.94 L186.89 367.58 L187.42 369.35 L187.94 371.19 L188.45 373.08 L188.94 374.96 L189.41 376.89 L189.86 378.92 L190.3 381.04 L190.73 383.22 L191.15 385.43 L191.57 387.65 L191.99 389.86 L192.42 392.02 L192.86 394.17 L193.28 396.35 L193.7 398.54 L194.12 400.73 L194.55 402.89 L194.99 405.02 L195.44 407.08 L195.91 409.08 L196.39 411.04 L196.89 413 L197.39 414.93 L197.91 416.81 L198.44 418.61 L198.98 420.31 L199.53 421.88 L200.09 423.3 L200.66 424.56 L201.23 425.68 L201.81 426.69 L202.4 427.59 L203.01 428.39 L203.63 429.12 L204.29 429.79 L204.97 430.41 L205.69 430.95 L206.45 431.4 L207.25 431.77 L208.06 432.07 L208.88 432.32 L209.69 432.53 L210.48 432.72 L211.24 432.89 L211.53 433.04 L211.18 433.14 L210.56 433.2 L210.06 433.23 L210.06 433.24 L210.93 433.24 L213.05 433.24 L216.81 433.25 L222.93 433.27 L231.36 433.27 L241.31 433.28 L252.01 433.27 L262.65 433.27 L272.48 433.26 L280.69 433.25 L286.5 433.25" fill="none" stroke="#18188e" stroke-width="1.5" stroke-dasharray="1.5 2.75"/>
<rect x="347.6" y="6.7" width="243.9" height="106.63" fill="none" stroke="#222" stroke-width="1.25" stroke-linejoin="round"/>
<path d="M347.6 99.42h5.2M591.5 99.42h-5.2M347.6 76.24h5.2M591.5 76.24h-5.2M347.6 53.06h5.2M591.5 53.06h-5.2M347.6 29.88h5.2M591.5 29.88h-5.2M382.44 113.33v-5.2M382.44 6.7v5.2M417.29 113.33v-5.2M417.29 6.7v5.2M452.13 113.33v-5.2M452.13 6.7v5.2M486.97 113.33v-5.2M486.97 6.7v5.2M521.81 113.33v-5.2M521.81 6.7v5.2M556.66 113.33v-5.2M556.66 6.7v5.2" stroke="#222" stroke-width="1.1" fill="none"/>
<text x="341" y="10.7" font-size="10.8" text-anchor="end">1.5</text>
<text x="341" y="33.88" font-size="10.8" text-anchor="end">1.0</text>
<text x="341" y="57.06" font-size="10.8" text-anchor="end">0.5</text>
<text x="341" y="80.24" font-size="10.8" text-anchor="end">0.0</text>
<text x="341" y="103.42" font-size="10.8" text-anchor="end">-0.5</text>
<text x="364.4" y="25.8" font-size="15.4" text-anchor="start">Fornax</text>
<path d="M472.3 37.7H489.7M481 24.7V50.7M472.3 35.5v4.4M489.7 35.5v4.4M478.8 24.7h4.4M478.8 50.7h4.4M490.4 23.3H505.4M497.9 11.3V35.3M490.4 21.1v4.4M505.4 21.1v4.4M495.7 11.3h4.4M495.7 35.3h4.4M497.5 27.9H513.5M505.5 17.9V37.9M497.5 25.7v4.4M513.5 25.7v4.4M503.3 17.9h4.4M503.3 37.9h4.4M495.9 34.8H511.9M503.9 25.8V43.8M495.9 32.6v4.4M511.9 32.6v4.4M501.7 25.8h4.4M501.7 43.8h4.4M487.2 63.4H503.2M495.2 53.4V73.4M487.2 61.2v4.4M503.2 61.2v4.4M493 53.4h4.4M493 73.4h4.4M482.5 76.4H499.5M491 68.4V84.4M482.5 74.2v4.4M499.5 74.2v4.4M488.8 68.4h4.4M488.8 84.4h4.4M489.3 85.1H503.3M496.3 77.1V93.1M489.3 82.9v4.4M503.3 82.9v4.4M494.1 77.1h4.4M494.1 93.1h4.4M497.3 89.7H511.3M504.3 81.2V98.2M497.3 87.5v4.4M511.3 87.5v4.4M502.1 81.2h4.4M502.1 98.2h4.4M516.8 96.6H530.8M523.8 84.6V108.6M516.8 94.4v4.4M530.8 94.4v4.4M521.6 84.6h4.4M521.6 108.6h4.4M535.1 95.5H549.1M542.1 84.5V106.5M535.1 93.3v4.4M549.1 93.3v4.4M539.9 84.5h4.4M539.9 106.5h4.4M552.5 69.1H568.5M560.5 57.1V81.1M552.5 66.9v4.4M568.5 66.9v4.4M558.3 57.1h4.4M558.3 81.1h4.4M551.2 82.9H565.2M558.2 73.9V91.9M551.2 80.7v4.4M565.2 80.7v4.4M556 73.9h4.4M556 91.9h4.4M518 39.3H532M525 31.3V47.3M518 37.1v4.4M532 37.1v4.4M522.8 31.3h4.4M522.8 47.3h4.4M522.93 87.79H538.58M530.75 79.66V95.91M522.93 85.59v4.4M538.58 85.59v4.4M528.55 79.66h4.4M528.55 95.91h4.4M512.89 86.82H523.92M518.41 75.71V97.92M512.89 84.62v4.4M523.92 84.62v4.4M516.21 75.71h4.4M516.21 97.92h4.4M530.88 70.19H543.7M537.29 61.79V78.58M530.88 67.99v4.4M543.7 67.99v4.4M535.09 61.79h4.4M535.09 78.58h4.4M509.67 69.25H523.7M516.69 59.48V79.02M509.67 67.05v4.4M523.7 67.05v4.4M514.49 59.48h4.4M514.49 79.02h4.4M537.46 83.5H552.2M544.83 71.55V95.44M537.46 81.3v4.4M552.2 81.3v4.4M542.63 71.55h4.4M542.63 95.44h4.4M507.84 57.57H522.52M515.18 50.35V64.79M507.84 55.37v4.4M522.52 55.37v4.4M512.98 50.35h4.4M512.98 64.79h4.4M501.46 72.11H515.25M508.36 60.52V83.7M501.46 69.91v4.4M515.25 69.91v4.4M506.16 60.52h4.4M506.16 83.7h4.4M523.92 72.08H537.9M530.91 63.84V80.32M523.92 69.88v4.4M537.9 69.88v4.4M528.71 63.84h4.4M528.71 80.32h4.4M499.87 58.89H515.02M507.45 50.89V66.89M499.87 56.69v4.4M515.02 56.69v4.4M505.25 50.89h4.4M505.25 66.89h4.4M515.08 51.15H527.01M521.04 42.82V59.49M515.08 48.95v4.4M527.01 48.95v4.4M518.84 42.82h4.4M518.84 59.49h4.4M532.41 71.9H548.49M540.45 61.7V82.1M532.41 69.7v4.4M548.49 69.7v4.4M538.25 61.7h4.4M538.25 82.1h4.4M528.16 54.75H542.21M535.19 43.39V66.11M528.16 52.55v4.4M542.21 52.55v4.4M532.99 43.39h4.4M532.99 66.11h4.4M515.05 75.53H526.41M520.73 66.59V84.46M515.05 73.33v4.4M526.41 73.33v4.4M518.53 66.59h4.4M518.53 84.46h4.4M511.33 57.16H527.22M519.28 48.26V66.06M511.33 54.96v4.4M527.22 54.96v4.4M517.08 48.26h4.4M517.08 66.06h4.4M536.88 75.19H551.51M544.19 65V85.38M536.88 72.99v4.4M551.51 72.99v4.4M541.99 65h4.4M541.99 85.38h4.4M525.88 57.18H539.53M532.71 48.98V65.38M525.88 54.98v4.4M539.53 54.98v4.4M530.51 48.98h4.4M530.51 65.38h4.4M516.15 54.96H528.44M522.29 44.61V65.32M516.15 52.76v4.4M528.44 52.76v4.4M520.09 44.61h4.4M520.09 65.32h4.4M510.93 86.84H525.9M518.42 79.18V94.5M510.93 84.64v4.4M525.9 84.64v4.4M516.22 79.18h4.4M516.22 94.5h4.4M535.41 74.36H547.29M541.35 66.4V82.32M535.41 72.16v4.4M547.29 72.16v4.4M539.15 66.4h4.4M539.15 82.32h4.4M536.22 73.65H548.3M542.26 62.23V85.07M536.22 71.45v4.4M548.3 71.45v4.4M540.06 62.23h4.4M540.06 85.07h4.4M524.75 74.36H538.01M531.38 65.3V83.41M524.75 72.16v4.4M538.01 72.16v4.4M529.18 65.3h4.4M529.18 83.41h4.4M509.2 52.56H523M516.1 42.82V62.3M509.2 50.36v4.4M523 50.36v4.4M513.9 42.82h4.4M513.9 62.3h4.4M513.67 81.8H524.82M519.24 72.94V90.67M513.67 79.6v4.4M524.82 79.6v4.4M517.04 72.94h4.4M517.04 90.67h4.4M499.75 56.04H516.55M508.15 45.75V66.33M499.75 53.84v4.4M516.55 53.84v4.4M505.95 45.75h4.4M505.95 66.33h4.4M515.15 72.47H531.39M523.27 63.75V81.19M515.15 70.27v4.4M531.39 70.27v4.4M521.07 63.75h4.4M521.07 81.19h4.4M522.86 79.03H536M529.43 69.44V88.63M522.86 76.83v4.4M536 76.83v4.4M527.23 69.44h4.4M527.23 88.63h4.4M530.13 88.28H542.03M536.08 76.61V99.94M530.13 86.08v4.4M542.03 86.08v4.4M533.88 76.61h4.4M533.88 99.94h4.4M499.27 81.87H515.13M507.2 74.19V89.56M499.27 79.67v4.4M515.13 79.67v4.4M505 74.19h4.4M505 89.56h4.4M517.38 84.43H528.46M522.92 74.28V94.57M517.38 82.23v4.4M528.46 82.23v4.4M520.72 74.28h4.4M520.72 94.57h4.4M529.46 72.03H544.81M537.13 63.9V80.17M529.46 69.83v4.4M544.81 69.83v4.4M534.93 63.9h4.4M534.93 80.17h4.4M508.51 65.89H520.58M514.54 57.16V74.62M508.51 63.69v4.4M520.58 63.69v4.4M512.34 57.16h4.4M512.34 74.62h4.4M536.51 74.51H549.55M543.03 66.15V82.86M536.51 72.31v4.4M549.55 72.31v4.4M540.83 66.15h4.4M540.83 82.86h4.4M534.74 69.22H551.62M543.18 59.65V78.8M534.74 67.02v4.4M551.62 67.02v4.4M540.98 59.65h4.4M540.98 78.8h4.4M519.08 87.76H534.53M526.8 77.85V97.66M519.08 85.56v4.4M534.53 85.56v4.4M524.6 77.85h4.4M524.6 97.66h4.4M516.48 87.01H529.95M523.21 75.39V98.62M516.48 84.81v4.4M529.95 84.81v4.4M521.01 75.39h4.4M521.01 98.62h4.4M502.55 68.63H516.67M509.61 56.88V80.38M502.55 66.43v4.4M516.67 66.43v4.4M507.41 56.88h4.4M507.41 80.38h4.4M509.01 84.05H524.07M516.54 73.46V94.63M509.01 81.85v4.4M524.07 81.85v4.4M514.34 73.46h4.4M514.34 94.63h4.4M524.43 90.83H537.42M530.93 81.84V99.83M524.43 88.63v4.4M537.42 88.63v4.4M528.73 81.84h4.4M528.73 99.83h4.4M535.95 85.45H547.62M541.79 75.43V95.47M535.95 83.25v4.4M547.62 83.25v4.4M539.59 75.43h4.4M539.59 95.47h4.4M517.73 75.38H532.69M525.21 66.85V83.92M517.73 73.18v4.4M532.69 73.18v4.4M523.01 66.85h4.4M523.01 83.92h4.4M536.15 70.1H550.92M543.53 59.92V80.28M536.15 67.9v4.4M550.92 67.9v4.4M541.33 59.92h4.4M541.33 80.28h4.4M506.2 53.54H521.78M513.99 42.46V64.61M506.2 51.34v4.4M521.78 51.34v4.4M511.79 42.46h4.4M511.79 64.61h4.4M526.83 55.64H542.65M534.74 44.25V67.03M526.83 53.44v4.4M542.65 53.44v4.4M532.54 44.25h4.4M532.54 67.03h4.4M521.25 88.54H532.53M526.89 81.39V95.69M521.25 86.34v4.4M532.53 86.34v4.4M524.69 81.39h4.4M524.69 95.69h4.4M501.52 61.36H514.01M507.77 53.43V69.3M501.52 59.16v4.4M514.01 59.16v4.4M505.57 53.43h4.4M505.57 69.3h4.4M522.55 52.6H534.55M528.55 42.21V62.99M522.55 50.4v4.4M534.55 50.4v4.4M526.35 42.21h4.4M526.35 62.99h4.4M499.49 63.73H516.12M507.8 54.04V73.43M499.49 61.53v4.4M516.12 61.53v4.4M505.6 54.04h4.4M505.6 73.43h4.4M530.51 77.98H545.17M537.84 70.02V85.94M530.51 75.78v4.4M545.17 75.78v4.4M535.64 70.02h4.4M535.64 85.94h4.4M520.45 52.63H537.21M528.83 41.36V63.9M520.45 50.43v4.4M537.21 50.43v4.4M526.63 41.36h4.4M526.63 63.9h4.4M502.47 64.89H515.38M508.93 57.32V72.45M502.47 62.69v4.4M515.38 62.69v4.4M506.73 57.32h4.4M506.73 72.45h4.4M524.37 83.7H537.25M530.81 72.38V95.01M524.37 81.5v4.4M537.25 81.5v4.4M528.61 72.38h4.4M528.61 95.01h4.4M530.05 87.19H542.23M536.14 77.32V97.06M530.05 84.99v4.4M542.23 84.99v4.4M533.94 77.32h4.4M533.94 97.06h4.4M525.48 75.98H537.06M531.27 65.68V86.29M525.48 73.78v4.4M537.06 73.78v4.4M529.07 65.68h4.4M529.07 86.29h4.4M523.1 84.78H538.92M531.01 76.14V93.42M523.1 82.58v4.4M538.92 82.58v4.4M528.81 76.14h4.4M528.81 93.42h4.4M526.26 86.56H542.62M534.44 78.75V94.37M526.26 84.36v4.4M542.62 84.36v4.4M532.24 78.75h4.4M532.24 94.37h4.4M501.87 77.68H514.16M508.01 67.86V87.5M501.87 75.48v4.4M514.16 75.48v4.4M505.81 67.86h4.4M505.81 87.5h4.4M536.64 66.55H549.16M542.9 57.27V75.83M536.64 64.35v4.4M549.16 64.35v4.4M540.7 57.27h4.4M540.7 75.83h4.4M526.07 55.15H537.88M531.98 44.83V65.46M526.07 52.95v4.4M537.88 52.95v4.4M529.78 44.83h4.4M529.78 65.46h4.4M531.95 66.45H545.18M538.56 56.75V76.15M531.95 64.25v4.4M545.18 64.25v4.4M536.36 56.75h4.4M536.36 76.15h4.4M508.68 61.14H521.66M515.17 51.86V70.43M508.68 58.94v4.4M521.66 58.94v4.4M512.97 51.86h4.4M512.97 70.43h4.4M502.86 81.86H517.34M510.1 73.36V90.36M502.86 79.66v4.4M517.34 79.66v4.4M507.9 73.36h4.4M507.9 90.36h4.4M504.05 82.29H515.84M509.95 74.62V89.96M504.05 80.09v4.4M515.84 80.09v4.4M507.75 74.62h4.4M507.75 89.96h4.4M505.66 54.33H518.27M511.97 45.8V62.86M505.66 52.13v4.4M518.27 52.13v4.4M509.77 45.8h4.4M509.77 62.86h4.4M532.58 76.42H544.71M538.65 67.24V85.59M532.58 74.22v4.4M544.71 74.22v4.4M536.45 67.24h4.4M536.45 85.59h4.4M532.96 66.39H548.22M540.59 58.91V73.87M532.96 64.19v4.4M548.22 64.19v4.4M538.39 58.91h4.4M538.39 73.87h4.4M526.66 82.84H542.62M534.64 72.46V93.21M526.66 80.64v4.4M542.62 80.64v4.4M532.44 72.46h4.4M532.44 93.21h4.4M513.32 53.63H528.86M521.09 45.68V61.59M513.32 51.43v4.4M528.86 51.43v4.4M518.89 45.68h4.4M518.89 61.59h4.4M509.37 72.98H524.86M517.12 61.5V84.46M509.37 70.78v4.4M524.86 70.78v4.4M514.92 61.5h4.4M514.92 84.46h4.4M503.88 58.56H519.68M511.78 48.33V68.78M503.88 56.36v4.4M519.68 56.36v4.4M509.58 48.33h4.4M509.58 68.78h4.4M526.08 91.87H542.71M534.4 80.65V103.08M526.08 89.67v4.4M542.71 89.67v4.4M532.2 80.65h4.4M532.2 103.08h4.4M529.11 67.2H543.95M536.53 59.27V75.12M529.11 65v4.4M543.95 65v4.4M534.33 59.27h4.4M534.33 75.12h4.4M528.2 82.07H543.52M535.86 72.84V91.29M528.2 79.87v4.4M543.52 79.87v4.4M533.66 72.84h4.4M533.66 91.29h4.4M515.77 68.21H526.97M521.37 56.99V79.43M515.77 66.01v4.4M526.97 66.01v4.4M519.17 56.99h4.4M519.17 79.43h4.4M520.47 66.89H534.75M527.61 56.28V77.5M520.47 64.69v4.4M534.75 64.69v4.4M525.41 56.28h4.4M525.41 77.5h4.4M513.24 85.06H529.75M521.5 76.12V93.99M513.24 82.86v4.4M529.75 82.86v4.4M519.3 76.12h4.4M519.3 93.99h4.4M503.76 82.18H520.72M512.24 74.44V89.92M503.76 79.98v4.4M520.72 79.98v4.4M510.04 74.44h4.4M510.04 89.92h4.4M525.82 84.84H542.34M534.08 77.22V92.46M525.82 82.64v4.4M542.34 82.64v4.4M531.88 77.22h4.4M531.88 92.46h4.4M504.64 91.5H516.34M510.49 83.62V99.39M504.64 89.3v4.4M516.34 89.3v4.4M508.29 83.62h4.4M508.29 99.39h4.4M521.1 69.3H536.6M528.85 61.34V77.25M521.1 67.1v4.4M536.6 67.1v4.4M526.65 61.34h4.4M526.65 77.25h4.4M533.94 59.9H549.56M541.75 52.57V67.24M533.94 57.7v4.4M549.56 57.7v4.4M539.55 52.57h4.4M539.55 67.24h4.4M518.55 52.33H531.43M524.99 41.74V62.93M518.55 50.13v4.4M531.43 50.13v4.4M522.79 41.74h4.4M522.79 62.93h4.4M516.12 53.33H532.46M524.29 41.75V64.91M516.12 51.13v4.4M532.46 51.13v4.4M522.09 41.75h4.4M522.09 64.91h4.4M510.19 67.16H522.55M516.37 59.53V74.78M510.19 64.96v4.4M522.55 64.96v4.4M514.17 59.53h4.4M514.17 74.78h4.4M502.39 71.64H514.12M508.25 63.76V79.52M502.39 69.44v4.4M514.12 69.44v4.4M506.05 63.76h4.4M506.05 79.52h4.4M533.65 70.85H545.75M539.7 60.5V81.2M533.65 68.65v4.4M545.75 68.65v4.4M537.5 60.5h4.4M537.5 81.2h4.4M510.75 72.6H523.45M517.1 63.02V82.19M510.75 70.4v4.4M523.45 70.4v4.4M514.9 63.02h4.4M514.9 82.19h4.4M524.2 72.98H537.57M530.88 62.03V83.94M524.2 70.78v4.4M537.57 70.78v4.4M528.68 62.03h4.4M528.68 83.94h4.4M534.28 58.35H546.1M540.19 50.79V65.92M534.28 56.15v4.4M546.1 56.15v4.4M537.99 50.79h4.4M537.99 65.92h4.4M509.64 90.77H521.89M515.77 81.23V100.3M509.64 88.57v4.4M521.89 88.57v4.4M513.57 81.23h4.4M513.57 100.3h4.4M520.28 88.51H531.52M525.9 79.94V97.09M520.28 86.31v4.4M531.52 86.31v4.4M523.7 79.94h4.4M523.7 97.09h4.4M516.89 87.12H532.46M524.67 75.97V98.26M516.89 84.92v4.4M532.46 84.92v4.4M522.47 75.97h4.4M522.47 98.26h4.4M527.87 80.02H543.97M535.92 69.61V90.42M527.87 77.82v4.4M543.97 77.82v4.4M533.72 69.61h4.4M533.72 90.42h4.4M528.95 63.37H540.96M534.96 52.58V74.15M528.95 61.17v4.4M540.96 61.17v4.4M532.76 52.58h4.4M532.76 74.15h4.4M506.01 88.7H520.59M513.3 80.05V97.34M506.01 86.5v4.4M520.59 86.5v4.4M511.1 80.05h4.4M511.1 97.34h4.4M535.55 57.36H549.64M542.59 49.9V64.82M535.55 55.16v4.4M549.64 55.16v4.4M540.39 49.9h4.4M540.39 64.82h4.4M535.78 74.59H551.6M543.69 66.18V83M535.78 72.39v4.4M551.6 72.39v4.4M541.49 66.18h4.4M541.49 83h4.4M530.04 79.82H544.9M537.47 68.06V91.57M530.04 77.62v4.4M544.9 77.62v4.4M535.27 68.06h4.4M535.27 91.57h4.4M515.9 68.02H531.05M523.47 56.84V79.19M515.9 65.82v4.4M531.05 65.82v4.4M521.27 56.84h4.4M521.27 79.19h4.4M513.61 78.46H525.86M519.73 68.7V88.21M513.61 76.26v4.4M525.86 76.26v4.4M517.53 68.7h4.4M517.53 88.21h4.4M530.68 53.68H541.77M536.23 41.89V65.47M530.68 51.48v4.4M541.77 51.48v4.4M534.03 41.89h4.4M534.03 65.47h4.4M517.15 67.77H532.47M524.81 58.16V77.39M517.15 65.57v4.4M532.47 65.57v4.4M522.61 58.16h4.4M522.61 77.39h4.4M527.6 54.48H541.95M534.77 42.81V66.14M527.6 52.28v4.4M541.95 52.28v4.4M532.57 42.81h4.4M532.57 66.14h4.4M501.11 69.57H515.9M508.51 59.81V79.32M501.11 67.37v4.4M515.9 67.37v4.4M506.31 59.81h4.4M506.31 79.32h4.4M503.65 75.32H515.98M509.82 67.34V83.3M503.65 73.12v4.4M515.98 73.12v4.4M507.62 67.34h4.4M507.62 83.3h4.4M533.53 59.11H547.25M540.39 48.36V69.86M533.53 56.91v4.4M547.25 56.91v4.4M538.19 48.36h4.4M538.19 69.86h4.4M525.96 73.69H541.8M533.88 64.36V83.02M525.96 71.49v4.4M541.8 71.49v4.4M531.68 64.36h4.4M531.68 83.02h4.4M523.04 84.58H538.11M530.57 74.37V94.78M523.04 82.38v4.4M538.11 82.38v4.4M528.37 74.37h4.4M528.37 94.78h4.4M515.74 73.89H529.12M522.43 63.17V84.61M515.74 71.69v4.4M529.12 71.69v4.4M520.23 63.17h4.4M520.23 84.61h4.4M513.69 70.13H529.22M521.46 60.61V79.65M513.69 67.93v4.4M529.22 67.93v4.4M519.26 60.61h4.4M519.26 79.65h4.4M513.2 84.9H526.49M519.85 73.68V96.12M513.2 82.7v4.4M526.49 82.7v4.4M517.65 73.68h4.4M517.65 96.12h4.4M529.2 69.34H544.48M536.84 62.17V76.51M529.2 67.14v4.4M544.48 67.14v4.4M534.64 62.17h4.4M534.64 76.51h4.4M514.57 86.27H529.05M521.81 76.48V96.06M514.57 84.07v4.4M529.05 84.07v4.4M519.61 76.48h4.4M519.61 96.06h4.4M525.01 78.78H539.51M532.26 69.68V87.89M525.01 76.58v4.4M539.51 76.58v4.4M530.06 69.68h4.4M530.06 87.89h4.4M507.59 63H520.35M513.97 53.84V72.15M507.59 60.8v4.4M520.35 60.8v4.4M511.77 53.84h4.4M511.77 72.15h4.4M538.12 65.45H551.81M544.96 56.6V74.31M538.12 63.25v4.4M551.81 63.25v4.4M542.76 56.6h4.4M542.76 74.31h4.4M520.93 89.86H537.26M529.09 80.98V98.75M520.93 87.66v4.4M537.26 87.66v4.4M526.89 80.98h4.4M526.89 98.75h4.4M510.16 87.26H524.12M517.14 76.83V97.69M510.16 85.06v4.4M524.12 85.06v4.4M514.94 76.83h4.4M514.94 97.69h4.4M503.35 86.53H516.22M509.79 77.06V96M503.35 84.33v4.4M516.22 84.33v4.4M507.59 77.06h4.4M507.59 96h4.4M506.54 68.23H522.51M514.52 57.09V79.37M506.54 66.03v4.4M522.51 66.03v4.4M512.32 57.09h4.4M512.32 79.37h4.4M518.13 82.48H531.87M525 73.62V91.35M518.13 80.28v4.4M531.87 80.28v4.4M522.8 73.62h4.4M522.8 91.35h4.4M521.29 59.25H534.19M527.74 48.72V69.79M521.29 57.05v4.4M534.19 57.05v4.4M525.54 48.72h4.4M525.54 69.79h4.4M528.33 53.33H544.23M536.28 44.1V62.55M528.33 51.13v4.4M544.23 51.13v4.4M534.08 44.1h4.4M534.08 62.55h4.4M503.13 79H515.61M509.37 68.78V89.22M503.13 76.8v4.4M515.61 76.8v4.4M507.17 68.78h4.4M507.17 89.22h4.4M515.04 77.12H527.59M521.31 67.74V86.51M515.04 74.92v4.4M527.59 74.92v4.4M519.11 67.74h4.4M519.11 86.51h4.4M520.83 76.87H533.05M526.94 65.06V88.68M520.83 74.67v4.4M533.05 74.67v4.4M524.74 65.06h4.4M524.74 88.68h4.4M511.72 63.55H524.26M517.99 56.21V70.88M511.72 61.35v4.4M524.26 61.35v4.4M515.79 56.21h4.4M515.79 70.88h4.4M515.44 82.65H530.7M523.07 74.67V90.62M515.44 80.45v4.4M530.7 80.45v4.4M520.87 74.67h4.4M520.87 90.62h4.4M504.4 64.18H520.01M512.2 54.74V73.62M504.4 61.98v4.4M520.01 61.98v4.4M510 54.74h4.4M510 73.62h4.4M534.72 77.91H549.44M542.08 67.07V88.75M534.72 75.71v4.4M549.44 75.71v4.4M539.88 67.07h4.4M539.88 88.75h4.4M529.24 65.1H541.78M535.51 55.91V74.29M529.24 62.9v4.4M541.78 62.9v4.4M533.31 55.91h4.4M533.31 74.29h4.4M518.77 56.81H532.42M525.59 46.61V67.01M518.77 54.61v4.4M532.42 54.61v4.4M523.39 46.61h4.4M523.39 67.01h4.4M506.14 56.66H518.18M512.16 48.24V65.08M506.14 54.46v4.4M518.18 54.46v4.4M509.96 48.24h4.4M509.96 65.08h4.4M507.06 57.77H520.91M513.98 50.69V64.84M507.06 55.57v4.4M520.91 55.57v4.4M511.78 50.69h4.4M511.78 64.84h4.4M518.1 57.68H530.72M524.41 46.72V68.64M518.1 55.48v4.4M530.72 55.48v4.4M522.21 46.72h4.4M522.21 68.64h4.4M507.28 76.3H520.71M513.99 67.21V85.39M507.28 74.1v4.4M520.71 74.1v4.4M511.79 67.21h4.4M511.79 85.39h4.4M529.77 57.6H546.31M538.04 46.13V69.06M529.77 55.4v4.4M546.31 55.4v4.4M535.84 46.13h4.4M535.84 69.06h4.4M525.1 53.03H539.7M532.4 42.17V63.89M525.1 50.83v4.4M539.7 50.83v4.4M530.2 42.17h4.4M530.2 63.89h4.4M506.97 90.09H523.28M515.13 82.52V97.66M506.97 87.89v4.4M523.28 87.89v4.4M512.93 82.52h4.4M512.93 97.66h4.4M510.73 52.33H527.22M518.98 40.38V64.28M510.73 50.13v4.4M527.22 50.13v4.4M516.78 40.38h4.4M516.78 64.28h4.4M522.72 78.31H537.79M530.25 68.45V88.16M522.72 76.11v4.4M537.79 76.11v4.4M528.05 68.45h4.4M528.05 88.16h4.4M536.68 75.92H549.7M543.19 66.36V85.49M536.68 73.72v4.4M549.7 73.72v4.4M540.99 66.36h4.4M540.99 85.49h4.4M500.13 80.69H515.29M507.71 71.58V89.79M500.13 78.49v4.4M515.29 78.49v4.4M505.51 71.58h4.4M505.51 89.79h4.4M532.85 81.98H545.87M539.36 74.59V89.36M532.85 79.78v4.4M545.87 79.78v4.4M537.16 74.59h4.4M537.16 89.36h4.4M505.61 58.56H518.44M512.02 49.32V67.79M505.61 56.36v4.4M518.44 56.36v4.4M509.82 49.32h4.4M509.82 67.79h4.4M534.07 62.42H550.46M542.26 52.01V72.82M534.07 60.22v4.4M550.46 60.22v4.4M540.06 52.01h4.4M540.06 72.82h4.4M533.92 67.53H544.94M539.43 56.6V78.47M533.92 65.33v4.4M544.94 65.33v4.4M537.23 56.6h4.4M537.23 78.47h4.4M508.43 56.84H524.23M516.33 46.41V67.27M508.43 54.64v4.4M524.23 54.64v4.4M514.13 46.41h4.4M514.13 67.27h4.4M506.75 61.97H523.39M515.07 53.63V70.31M506.75 59.77v4.4M523.39 59.77v4.4M512.87 53.63h4.4M512.87 70.31h4.4M525.75 56.31H541.64M533.69 48.72V63.9M525.75 54.11v4.4M541.64 54.11v4.4M531.49 48.72h4.4M531.49 63.9h4.4M518.57 52.44H534.65M526.61 45.02V59.87M518.57 50.24v4.4M534.65 50.24v4.4M524.41 45.02h4.4M524.41 59.87h4.4M510.1 82.35H524.75M517.42 73.79V90.92M510.1 80.15v4.4M524.75 80.15v4.4M515.22 73.79h4.4M515.22 90.92h4.4M522.81 69.64H538.99M530.9 61.18V78.11M522.81 67.44v4.4M538.99 67.44v4.4M528.7 61.18h4.4M528.7 78.11h4.4M528.07 77.06H543.52M535.79 68.17V85.95M528.07 74.86v4.4M543.52 74.86v4.4M533.59 68.17h4.4M533.59 85.95h4.4M527.88 79.64H541.21M534.55 72.5V86.77M527.88 77.44v4.4M541.21 77.44v4.4M532.35 72.5h4.4M532.35 86.77h4.4M537.48 80.26H549.7M543.59 69.6V90.91M537.48 78.06v4.4M549.7 78.06v4.4M541.39 69.6h4.4M541.39 90.91h4.4M509.51 70.24H525.67M517.59 61V79.48M509.51 68.04v4.4M525.67 68.04v4.4M515.39 61h4.4M515.39 79.48h4.4M512.21 63.53H523.68M517.94 55.43V71.62M512.21 61.33v4.4M523.68 61.33v4.4M515.74 55.43h4.4M515.74 71.62h4.4M511.61 58.09H522.99M517.3 48.76V67.42M511.61 55.89v4.4M522.99 55.89v4.4M515.1 48.76h4.4M515.1 67.42h4.4M506.88 81.29H523.41M515.15 72.92V89.65M506.88 79.09v4.4M523.41 79.09v4.4M512.95 72.92h4.4M512.95 89.65h4.4M523.02 71.78H534.47M528.75 64.15V79.4M523.02 69.58v4.4M534.47 69.58v4.4M526.55 64.15h4.4M526.55 79.4h4.4M532.71 70.44H548.54M540.62 63.11V77.77M532.71 68.24v4.4M548.54 68.24v4.4M538.42 63.11h4.4M538.42 77.77h4.4M521.5 86.48H537.7M529.6 79.45V93.51M521.5 84.28v4.4M537.7 84.28v4.4M527.4 79.45h4.4M527.4 93.51h4.4M519.05 66.13H534.61M526.83 58.76V73.5M519.05 63.93v4.4M534.61 63.93v4.4M524.63 58.76h4.4M524.63 73.5h4.4M510.16 84.32H523.98M517.07 75.05V93.58M510.16 82.12v4.4M523.98 82.12v4.4M514.87 75.05h4.4M514.87 93.58h4.4M538.18 64.12H549.43M543.81 55.15V73.08M538.18 61.92v4.4M549.43 61.92v4.4M541.61 55.15h4.4M541.61 73.08h4.4M504.47 54.36H521.19M512.83 44.46V64.25M504.47 52.16v4.4M521.19 52.16v4.4M510.63 44.46h4.4M510.63 64.25h4.4M524.38 64.27H538.8M531.59 53.51V75.03M524.38 62.07v4.4M538.8 62.07v4.4M529.39 53.51h4.4M529.39 75.03h4.4M522.24 83.91H536.54M529.39 75.92V91.9M522.24 81.71v4.4M536.54 81.71v4.4M527.19 75.92h4.4M527.19 91.9h4.4M523.15 71.13H535.14M529.14 61.03V81.22M523.15 68.93v4.4M535.14 68.93v4.4M526.94 61.03h4.4M526.94 81.22h4.4M521 81.08H534.42M527.71 72.73V89.43M521 78.88v4.4M534.42 78.88v4.4M525.51 72.73h4.4M525.51 89.43h4.4M540.78 76.25H554.9M547.84 67.46V85.05M540.78 74.05v4.4M554.9 74.05v4.4M545.64 67.46h4.4M545.64 85.05h4.4M536.62 84.54H552.16M544.39 78.03V91.04M536.62 82.34v4.4M552.16 82.34v4.4M542.19 78.03h4.4M542.19 91.04h4.4M538.7 65.21H553.79M546.24 54.66V75.76M538.7 63.01v4.4M553.79 63.01v4.4M544.04 54.66h4.4M544.04 75.76h4.4M538 69.97H549.15M543.58 61.62V78.32M538 67.77v4.4M549.15 67.77v4.4M541.38 61.62h4.4M541.38 78.32h4.4M549.47 62.11H560.49M554.98 53.67V70.54M549.47 59.91v4.4M560.49 59.91v4.4M552.78 53.67h4.4M552.78 70.54h4.4M543.5 82.37H556.13M549.81 75.66V89.07M543.5 80.17v4.4M556.13 80.17v4.4M547.61 75.66h4.4M547.61 89.07h4.4M540.34 89.46H554.85M547.6 82.88V96.04M540.34 87.26v4.4M554.85 87.26v4.4M545.4 82.88h4.4M545.4 96.04h4.4M546.16 69.33H560.85M553.51 63.26V75.39M546.16 67.13v4.4M560.85 67.13v4.4M551.31 63.26h4.4M551.31 75.39h4.4M547.96 64.87H560.69M554.33 55.56V74.18M547.96 62.67v4.4M560.69 62.67v4.4M552.13 55.56h4.4M552.13 74.18h4.4M544.18 64.96H555.02M549.6 57.54V72.38M544.18 62.76v4.4M555.02 62.76v4.4M547.4 57.54h4.4M547.4 72.38h4.4M538.29 66.5H549.07M543.68 58.17V74.82M538.29 64.3v4.4M549.07 64.3v4.4M541.48 58.17h4.4M541.48 74.82h4.4M541.79 77.6H553.48M547.63 71.44V83.77M541.79 75.4v4.4M553.48 75.4v4.4M545.43 71.44h4.4M545.43 83.77h4.4M541.54 82.66H553.07M547.3 74.63V90.68M541.54 80.46v4.4M553.07 80.46v4.4M545.1 74.63h4.4M545.1 90.68h4.4M545.15 72.2H560.48M552.81 61.61V82.79M545.15 70v4.4M560.48 70v4.4M550.61 61.61h4.4M550.61 82.79h4.4M541.28 82.08H552.8M547.04 75.38V88.78M541.28 79.88v4.4M552.8 79.88v4.4M544.84 75.38h4.4M544.84 88.78h4.4M540.89 78.07H556.5M548.69 71.34V84.8M540.89 75.87v4.4M556.5 75.87v4.4M546.49 71.34h4.4M546.49 84.8h4.4M504.58 49H519.42M512 39.57V58.43M504.58 46.8v4.4M519.42 46.8v4.4M509.8 39.57h4.4M509.8 58.43h4.4M519.74 45H532.26M526 34.08V55.92M519.74 42.8v4.4M532.26 42.8v4.4M523.8 34.08h4.4M523.8 55.92h4.4M511.61 52H526.39M519 43.61V60.39M511.61 49.8v4.4M526.39 49.8v4.4M516.8 43.61h4.4M516.8 60.39h4.4M525.19 51H540.81M533 42.69V59.31M525.19 48.8v4.4M540.81 48.8v4.4M530.8 42.69h4.4M530.8 59.31h4.4M503.81 45H516.19M510 36.01V53.99M503.81 42.8v4.4M516.19 42.8v4.4M507.8 36.01h4.4M507.8 53.99h4.4" stroke="#000" stroke-width="1.05" fill="none"/><path d="M481 36.1a1.6 1.6 0 1 0 0.01 0zM497.89 21.7a1.6 1.6 0 1 0 0.01 0zM505.5 26.3a1.6 1.6 0 1 0 0.01 0zM503.89 33.2a1.6 1.6 0 1 0 0.01 0zM495.19 61.8a1.6 1.6 0 1 0 0.01 0zM491 74.8a1.6 1.6 0 1 0 0.01 0zM496.3 83.5a1.6 1.6 0 1 0 0.01 0zM504.3 88.1a1.6 1.6 0 1 0 0.01 0zM523.79 95a1.6 1.6 0 1 0 0.01 0zM542.1 93.9a1.6 1.6 0 1 0 0.01 0zM560.5 67.5a1.6 1.6 0 1 0 0.01 0zM558.2 81.3a1.6 1.6 0 1 0 0.01 0zM525 37.7a1.6 1.6 0 1 0 0.01 0zM530.75 86.19a1.6 1.6 0 1 0 0.01 0zM518.4 85.22a1.6 1.6 0 1 0 0.01 0zM537.28 68.59a1.6 1.6 0 1 0 0.01 0zM516.68 67.65a1.6 1.6 0 1 0 0.01 0zM544.82 81.9a1.6 1.6 0 1 0 0.01 0zM515.18 55.97a1.6 1.6 0 1 0 0.01 0zM508.35 70.51a1.6 1.6 0 1 0 0.01 0zM530.91 70.48a1.6 1.6 0 1 0 0.01 0zM507.44 57.29a1.6 1.6 0 1 0 0.01 0zM521.04 49.55a1.6 1.6 0 1 0 0.01 0zM540.45 70.3a1.6 1.6 0 1 0 0.01 0zM535.18 53.15a1.6 1.6 0 1 0 0.01 0zM520.72 73.93a1.6 1.6 0 1 0 0.01 0zM519.27 55.56a1.6 1.6 0 1 0 0.01 0zM544.19 73.59a1.6 1.6 0 1 0 0.01 0zM532.7 55.58a1.6 1.6 0 1 0 0.01 0zM522.29 53.36a1.6 1.6 0 1 0 0.01 0zM518.41 85.24a1.6 1.6 0 1 0 0.01 0zM541.34 72.76a1.6 1.6 0 1 0 0.01 0zM542.26 72.05a1.6 1.6 0 1 0 0.01 0zM531.37 72.76a1.6 1.6 0 1 0 0.01 0zM516.1 50.96a1.6 1.6 0 1 0 0.01 0zM519.24 80.2a1.6 1.6 0 1 0 0.01 0zM508.15 54.44a1.6 1.6 0 1 0 0.01 0zM523.27 70.87a1.6 1.6 0 1 0 0.01 0zM529.43 77.43a1.6 1.6 0 1 0 0.01 0zM536.07 86.68a1.6 1.6 0 1 0 0.01 0zM507.19 80.27a1.6 1.6 0 1 0 0.01 0zM522.91 82.83a1.6 1.6 0 1 0 0.01 0zM537.13 70.43a1.6 1.6 0 1 0 0.01 0zM514.54 64.29a1.6 1.6 0 1 0 0.01 0zM543.02 72.91a1.6 1.6 0 1 0 0.01 0zM543.17 67.62a1.6 1.6 0 1 0 0.01 0zM526.8 86.16a1.6 1.6 0 1 0 0.01 0zM523.21 85.41a1.6 1.6 0 1 0 0.01 0zM509.61 67.03a1.6 1.6 0 1 0 0.01 0zM516.53 82.45a1.6 1.6 0 1 0 0.01 0zM530.92 89.23a1.6 1.6 0 1 0 0.01 0zM541.78 83.85a1.6 1.6 0 1 0 0.01 0zM525.2 73.78a1.6 1.6 0 1 0 0.01 0zM543.53 68.5a1.6 1.6 0 1 0 0.01 0zM513.98 51.94a1.6 1.6 0 1 0 0.01 0zM534.73 54.04a1.6 1.6 0 1 0 0.01 0zM526.88 86.94a1.6 1.6 0 1 0 0.01 0zM507.76 59.76a1.6 1.6 0 1 0 0.01 0zM528.54 51a1.6 1.6 0 1 0 0.01 0zM507.8 62.13a1.6 1.6 0 1 0 0.01 0zM537.84 76.38a1.6 1.6 0 1 0 0.01 0zM528.82 51.03a1.6 1.6 0 1 0 0.01 0zM508.92 63.29a1.6 1.6 0 1 0 0.01 0zM530.81 82.1a1.6 1.6 0 1 0 0.01 0zM536.14 85.59a1.6 1.6 0 1 0 0.01 0zM531.27 74.38a1.6 1.6 0 1 0 0.01 0zM531.01 83.18a1.6 1.6 0 1 0 0.01 0zM534.43 84.96a1.6 1.6 0 1 0 0.01 0zM508.01 76.08a1.6 1.6 0 1 0 0.01 0zM542.9 64.95a1.6 1.6 0 1 0 0.01 0zM531.97 53.55a1.6 1.6 0 1 0 0.01 0zM538.56 64.85a1.6 1.6 0 1 0 0.01 0zM515.17 59.54a1.6 1.6 0 1 0 0.01 0zM510.09 80.26a1.6 1.6 0 1 0 0.01 0zM509.94 80.69a1.6 1.6 0 1 0 0.01 0zM511.96 52.73a1.6 1.6 0 1 0 0.01 0zM538.64 74.82a1.6 1.6 0 1 0 0.01 0zM540.58 64.79a1.6 1.6 0 1 0 0.01 0zM534.63 81.24a1.6 1.6 0 1 0 0.01 0zM521.08 52.03a1.6 1.6 0 1 0 0.01 0zM517.11 71.38a1.6 1.6 0 1 0 0.01 0zM511.77 56.96a1.6 1.6 0 1 0 0.01 0zM534.39 90.27a1.6 1.6 0 1 0 0.01 0zM536.53 65.6a1.6 1.6 0 1 0 0.01 0zM535.86 80.47a1.6 1.6 0 1 0 0.01 0zM521.37 66.61a1.6 1.6 0 1 0 0.01 0zM527.61 65.29a1.6 1.6 0 1 0 0.01 0zM521.49 83.46a1.6 1.6 0 1 0 0.01 0zM512.23 80.58a1.6 1.6 0 1 0 0.01 0zM534.08 83.24a1.6 1.6 0 1 0 0.01 0zM510.48 89.9a1.6 1.6 0 1 0 0.01 0zM528.84 67.7a1.6 1.6 0 1 0 0.01 0zM541.74 58.3a1.6 1.6 0 1 0 0.01 0zM524.98 50.73a1.6 1.6 0 1 0 0.01 0zM524.29 51.73a1.6 1.6 0 1 0 0.01 0zM516.36 65.56a1.6 1.6 0 1 0 0.01 0zM508.25 70.04a1.6 1.6 0 1 0 0.01 0zM539.69 69.25a1.6 1.6 0 1 0 0.01 0zM517.1 71a1.6 1.6 0 1 0 0.01 0zM530.88 71.38a1.6 1.6 0 1 0 0.01 0zM540.19 56.75a1.6 1.6 0 1 0 0.01 0zM515.76 89.17a1.6 1.6 0 1 0 0.01 0zM525.9 86.91a1.6 1.6 0 1 0 0.01 0zM524.67 85.52a1.6 1.6 0 1 0 0.01 0zM535.92 78.42a1.6 1.6 0 1 0 0.01 0zM534.95 61.77a1.6 1.6 0 1 0 0.01 0zM513.3 87.1a1.6 1.6 0 1 0 0.01 0zM542.59 55.76a1.6 1.6 0 1 0 0.01 0zM543.68 72.99a1.6 1.6 0 1 0 0.01 0zM537.46 78.22a1.6 1.6 0 1 0 0.01 0zM523.47 66.42a1.6 1.6 0 1 0 0.01 0zM519.73 76.86a1.6 1.6 0 1 0 0.01 0zM536.22 52.08a1.6 1.6 0 1 0 0.01 0zM524.8 66.17a1.6 1.6 0 1 0 0.01 0zM534.77 52.88a1.6 1.6 0 1 0 0.01 0zM508.5 67.97a1.6 1.6 0 1 0 0.01 0zM509.81 73.72a1.6 1.6 0 1 0 0.01 0zM540.39 57.51a1.6 1.6 0 1 0 0.01 0zM533.87 72.09a1.6 1.6 0 1 0 0.01 0zM530.57 82.98a1.6 1.6 0 1 0 0.01 0zM522.43 72.29a1.6 1.6 0 1 0 0.01 0zM521.45 68.53a1.6 1.6 0 1 0 0.01 0zM519.84 83.3a1.6 1.6 0 1 0 0.01 0zM536.83 67.74a1.6 1.6 0 1 0 0.01 0zM521.81 84.67a1.6 1.6 0 1 0 0.01 0zM532.26 77.18a1.6 1.6 0 1 0 0.01 0zM513.97 61.4a1.6 1.6 0 1 0 0.01 0zM544.96 63.85a1.6 1.6 0 1 0 0.01 0zM529.09 88.26a1.6 1.6 0 1 0 0.01 0zM517.14 85.66a1.6 1.6 0 1 0 0.01 0zM509.78 84.93a1.6 1.6 0 1 0 0.01 0zM514.52 66.63a1.6 1.6 0 1 0 0.01 0zM524.99 80.88a1.6 1.6 0 1 0 0.01 0zM527.74 57.65a1.6 1.6 0 1 0 0.01 0zM536.27 51.73a1.6 1.6 0 1 0 0.01 0zM509.37 77.4a1.6 1.6 0 1 0 0.01 0zM521.31 75.52a1.6 1.6 0 1 0 0.01 0zM526.93 75.27a1.6 1.6 0 1 0 0.01 0zM517.98 61.95a1.6 1.6 0 1 0 0.01 0zM523.07 81.05a1.6 1.6 0 1 0 0.01 0zM512.2 62.58a1.6 1.6 0 1 0 0.01 0zM542.08 76.31a1.6 1.6 0 1 0 0.01 0zM535.5 63.5a1.6 1.6 0 1 0 0.01 0zM525.59 55.21a1.6 1.6 0 1 0 0.01 0zM512.15 55.06a1.6 1.6 0 1 0 0.01 0zM513.98 56.17a1.6 1.6 0 1 0 0.01 0zM524.41 56.08a1.6 1.6 0 1 0 0.01 0zM513.99 74.7a1.6 1.6 0 1 0 0.01 0zM538.04 56a1.6 1.6 0 1 0 0.01 0zM532.39 51.43a1.6 1.6 0 1 0 0.01 0zM515.12 88.49a1.6 1.6 0 1 0 0.01 0zM518.97 50.73a1.6 1.6 0 1 0 0.01 0zM530.25 76.71a1.6 1.6 0 1 0 0.01 0zM543.19 74.32a1.6 1.6 0 1 0 0.01 0zM507.7 79.09a1.6 1.6 0 1 0 0.01 0zM539.35 80.38a1.6 1.6 0 1 0 0.01 0zM512.02 56.96a1.6 1.6 0 1 0 0.01 0zM542.26 60.82a1.6 1.6 0 1 0 0.01 0zM539.43 65.93a1.6 1.6 0 1 0 0.01 0zM516.32 55.24a1.6 1.6 0 1 0 0.01 0zM515.07 60.37a1.6 1.6 0 1 0 0.01 0zM533.69 54.71a1.6 1.6 0 1 0 0.01 0zM526.6 50.84a1.6 1.6 0 1 0 0.01 0zM517.42 80.75a1.6 1.6 0 1 0 0.01 0zM530.89 68.04a1.6 1.6 0 1 0 0.01 0zM535.79 75.46a1.6 1.6 0 1 0 0.01 0zM534.54 78.04a1.6 1.6 0 1 0 0.01 0zM543.59 78.66a1.6 1.6 0 1 0 0.01 0zM517.58 68.64a1.6 1.6 0 1 0 0.01 0zM517.94 61.93a1.6 1.6 0 1 0 0.01 0zM517.3 56.49a1.6 1.6 0 1 0 0.01 0zM515.14 79.69a1.6 1.6 0 1 0 0.01 0zM528.74 70.18a1.6 1.6 0 1 0 0.01 0zM540.62 68.84a1.6 1.6 0 1 0 0.01 0zM529.6 84.88a1.6 1.6 0 1 0 0.01 0zM526.82 64.53a1.6 1.6 0 1 0 0.01 0zM517.06 82.72a1.6 1.6 0 1 0 0.01 0zM543.8 62.52a1.6 1.6 0 1 0 0.01 0zM512.82 52.76a1.6 1.6 0 1 0 0.01 0zM531.59 62.67a1.6 1.6 0 1 0 0.01 0zM529.39 82.31a1.6 1.6 0 1 0 0.01 0zM529.14 69.53a1.6 1.6 0 1 0 0.01 0zM527.7 79.48a1.6 1.6 0 1 0 0.01 0zM547.83 74.65a1.6 1.6 0 1 0 0.01 0zM544.39 82.94a1.6 1.6 0 1 0 0.01 0zM546.24 63.61a1.6 1.6 0 1 0 0.01 0zM543.57 68.37a1.6 1.6 0 1 0 0.01 0zM554.98 60.51a1.6 1.6 0 1 0 0.01 0zM549.81 80.77a1.6 1.6 0 1 0 0.01 0zM547.59 87.86a1.6 1.6 0 1 0 0.01 0zM553.5 67.73a1.6 1.6 0 1 0 0.01 0zM554.32 63.27a1.6 1.6 0 1 0 0.01 0zM549.6 63.36a1.6 1.6 0 1 0 0.01 0zM543.68 64.9a1.6 1.6 0 1 0 0.01 0zM547.63 76a1.6 1.6 0 1 0 0.01 0zM547.3 81.06a1.6 1.6 0 1 0 0.01 0zM552.81 70.6a1.6 1.6 0 1 0 0.01 0zM547.03 80.48a1.6 1.6 0 1 0 0.01 0zM548.69 76.47a1.6 1.6 0 1 0 0.01 0zM512 47.4a1.6 1.6 0 1 0 0.01 0zM526 43.4a1.6 1.6 0 1 0 0.01 0zM519 50.4a1.6 1.6 0 1 0 0.01 0zM533 49.4a1.6 1.6 0 1 0 0.01 0zM510 43.4a1.6 1.6 0 1 0 0.01 0z" fill="#000"/>
<path d="M355.2 45.2 L440.3 44.5 L480 57 L500 65 L503.3 66.7 L506.7 69.7 L516.7 74.2 L527.5 79.2 L529.2 80.8 L541.7 85.8 L544.2 90.8 L555 94.7 L570.8 99.5 L565 105 L561.7 109.2 L560.8 113.1" fill="none" stroke="#c01c1c" stroke-width="1.7" stroke-linejoin="round"/>
<path d="M348.2 45.2 L480 79.2 L505 85 L530 90 L546.7 94.2 L560 100 L565 107.5 L568.5 113.1" fill="none" stroke="#18188e" stroke-width="1.5" stroke-dasharray="1.5 2.75"/>
<rect x="347.6" y="113.35" width="243.9" height="106.63" fill="none" stroke="#222" stroke-width="1.25" stroke-linejoin="round"/>
<path d="M347.6 206.07h5.2M591.5 206.07h-5.2M347.6 182.89h5.2M591.5 182.89h-5.2M347.6 159.71h5.2M591.5 159.71h-5.2M347.6 136.53h5.2M591.5 136.53h-5.2M382.44 219.98v-5.2M382.44 113.35v5.2M417.29 219.98v-5.2M417.29 113.35v5.2M452.13 219.98v-5.2M452.13 113.35v5.2M486.97 219.98v-5.2M486.97 113.35v5.2M521.81 219.98v-5.2M521.81 113.35v5.2M556.66 219.98v-5.2M556.66 113.35v5.2" stroke="#222" stroke-width="1.1" fill="none"/>
<text x="341" y="140.53" font-size="10.8" text-anchor="end">1.0</text>
<text x="341" y="163.71" font-size="10.8" text-anchor="end">0.5</text>
<text x="341" y="186.89" font-size="10.8" text-anchor="end">0.0</text>
<text x="341" y="210.07" font-size="10.8" text-anchor="end">-0.5</text>
<text x="364.4" y="132.7" font-size="15.4" text-anchor="start">Sculptor</text>
<path d="M428.6 132.1H445.6M437.1 123.6V140.6M428.6 129.9v4.4M445.6 129.9v4.4M434.9 123.6h4.4M434.9 140.6h4.4M437.3 139.7H454.3M445.8 129.7V149.7M437.3 137.5v4.4M454.3 137.5v4.4M443.6 129.7h4.4M443.6 149.7h4.4M428 137H444M436 128V146M428 134.8v4.4M444 134.8v4.4M433.8 128h4.4M433.8 146h4.4M422.6 146.2H438.6M430.6 137.2V155.2M422.6 144v4.4M438.6 144v4.4M428.4 137.2h4.4M428.4 155.2h4.4M411.8 150.5H427.8M419.8 143V158M411.8 148.3v4.4M427.8 148.3v4.4M417.6 143h4.4M417.6 158h4.4M420.4 154.8H436.4M428.4 145.8V163.8M420.4 152.6v4.4M436.4 152.6v4.4M426.2 145.8h4.4M426.2 163.8h4.4M424.7 162.4H438.7M431.7 152.4V172.4M424.7 160.2v4.4M438.7 160.2v4.4M429.5 152.4h4.4M429.5 172.4h4.4M461.5 152.7H475.5M468.5 138.7V166.7M461.5 150.5v4.4M475.5 150.5v4.4M466.3 138.7h4.4M466.3 166.7h4.4M508.8 157.7H525.8M517.3 148.7V166.7M508.8 155.5v4.4M525.8 155.5v4.4M515.1 148.7h4.4M515.1 166.7h4.4M514.8 164.6H532.8M523.8 154.6V174.6M514.8 162.4v4.4M532.8 162.4v4.4M521.6 154.6h4.4M521.6 174.6h4.4M512.5 176.5H528.5M520.5 167.5V185.5M512.5 174.3v4.4M528.5 174.3v4.4M518.3 167.5h4.4M518.3 185.5h4.4M516.8 187.3H532.8M524.8 178.3V196.3M516.8 185.1v4.4M532.8 185.1v4.4M522.6 178.3h4.4M522.6 196.3h4.4M461.5 183H475.5M468.5 172.5V193.5M461.5 180.8v4.4M475.5 180.8v4.4M466.3 172.5h4.4M466.3 193.5h4.4M455 176.5H469M462 167.5V185.5M455 174.3v4.4M469 174.3v4.4M459.8 167.5h4.4M459.8 185.5h4.4M485.3 200.3H499.3M492.3 191.3V209.3M485.3 198.1v4.4M499.3 198.1v4.4M490.1 191.3h4.4M490.1 209.3h4.4M498.3 200.3H512.3M505.3 191.3V209.3M498.3 198.1v4.4M512.3 198.1v4.4M503.1 191.3h4.4M503.1 209.3h4.4M423.69 151.19H441.31M432.5 144.02V158.35M423.69 148.99v4.4M441.31 148.99v4.4M430.3 144.02h4.4M430.3 158.35h4.4M417.5 155.62H435M426.25 145.56V165.68M417.5 153.42v4.4M435 153.42v4.4M424.05 145.56h4.4M424.05 165.68h4.4M432.55 147.51H444.95M438.75 137.67V157.36M432.55 145.31v4.4M444.95 145.31v4.4M436.55 137.67h4.4M436.55 157.36h4.4M415.75 149.85H430.5M423.12 140.03V159.67M415.75 147.65v4.4M430.5 147.65v4.4M420.93 140.03h4.4M420.93 159.67h4.4M427.41 162.07H443.84M435.62 151.68V172.47M427.41 159.87v4.4M443.84 159.87v4.4M433.43 151.68h4.4M433.43 172.47h4.4M420.38 147.26H438.37M429.38 139.47V155.04M420.38 145.06v4.4M438.37 145.06v4.4M427.18 139.47h4.4M427.18 155.04h4.4M458.44 170.46H475.31M466.88 161.41V179.52M458.44 168.26v4.4M475.31 168.26v4.4M464.68 161.41h4.4M464.68 179.52h4.4M438.21 170.35H454.91M446.56 158.89V181.81M438.21 168.15v4.4M454.91 168.15v4.4M444.36 158.89h4.4M444.36 181.81h4.4M450.09 151.62H468.04M459.06 143.29V159.95M450.09 149.42v4.4M468.04 149.42v4.4M456.86 143.29h4.4M456.86 159.95h4.4M445.45 160.58H460.17M452.81 148.87V172.3M445.45 158.38v4.4M460.17 158.38v4.4M450.61 148.87h4.4M450.61 172.3h4.4M456.48 172.94H474.15M465.31 164.07V181.8M456.48 170.74v4.4M474.15 170.74v4.4M463.11 164.07h4.4M463.11 181.8h4.4M440.87 153.55H458.51M449.69 144.52V162.58M440.87 151.35v4.4M458.51 151.35v4.4M447.49 144.52h4.4M447.49 162.58h4.4M455.06 166.91H469.31M462.19 156.13V177.69M455.06 164.71v4.4M469.31 164.71v4.4M459.99 156.13h4.4M459.99 177.69h4.4M448.52 171.72H463.35M455.94 162.48V180.96M448.52 169.52v4.4M463.35 169.52v4.4M453.74 162.48h4.4M453.74 180.96h4.4M461.28 164.87H475.6M468.44 155.7V174.03M461.28 162.67v4.4M475.6 162.67v4.4M466.24 155.7h4.4M466.24 174.03h4.4M439.36 162.13H452.2M445.78 154.82V169.43M439.36 159.93v4.4M452.2 159.93v4.4M443.58 154.82h4.4M443.58 169.43h4.4M450.02 177.13H466.54M458.28 167.31V186.96M450.02 174.93v4.4M466.54 174.93v4.4M456.08 167.31h4.4M456.08 186.96h4.4M444.02 151.33H460.05M452.03 140.32V162.34M444.02 149.13v4.4M460.05 149.13v4.4M449.83 140.32h4.4M449.83 162.34h4.4M457.84 166.44H471.22M464.53 158.27V174.61M457.84 164.24v4.4M471.22 164.24v4.4M462.33 158.27h4.4M462.33 174.61h4.4M442.07 166.74H455.74M448.91 158.22V175.26M442.07 164.54v4.4M455.74 164.54v4.4M446.71 158.22h4.4M446.71 175.26h4.4M453.12 159.77H469.69M461.41 150.9V168.64M453.12 157.57v4.4M469.69 157.57v4.4M459.21 150.9h4.4M459.21 168.64h4.4M448.19 164.59H462.13M455.16 154.41V174.77M448.19 162.39v4.4M462.13 162.39v4.4M452.96 154.41h4.4M452.96 174.77h4.4M461.1 178.04H474.22M467.66 170.51V185.58M461.1 175.84v4.4M474.22 175.84v4.4M465.46 170.51h4.4M465.46 185.58h4.4M439.25 156.63H455.44M447.34 145.85V167.42M439.25 154.43v4.4M455.44 154.43v4.4M445.14 145.85h4.4M445.14 167.42h4.4M452.95 168.9H466.73M459.84 158.72V179.08M452.95 166.7v4.4M466.73 166.7v4.4M457.64 158.72h4.4M457.64 179.08h4.4M447.49 177.85H459.7M453.59 168.83V186.87M447.49 175.65v4.4M459.7 175.65v4.4M451.39 168.83h4.4M451.39 186.87h4.4M483.36 163.4H498.83M491.09 155.13V171.67M483.36 161.2v4.4M498.83 161.2v4.4M488.89 155.13h4.4M488.89 171.67h4.4M468.42 170.35H482.51M475.47 160.3V180.39M468.42 168.15v4.4M482.51 168.15v4.4M473.27 160.3h4.4M473.27 180.39h4.4M480.2 181.09H495.74M487.97 173.32V188.86M480.2 178.89v4.4M495.74 178.89v4.4M485.77 173.32h4.4M485.77 188.86h4.4M473.6 167.77H489.84M481.72 160.37V175.17M473.6 165.57v4.4M489.84 165.57v4.4M479.52 160.37h4.4M479.52 175.17h4.4M485.31 179H503.13M494.22 170.99V187.01M485.31 176.8v4.4M503.13 176.8v4.4M492.02 170.99h4.4M492.02 187.01h4.4M463.63 176.54H477.15M470.39 168.54V184.54M463.63 174.34v4.4M477.15 174.34v4.4M468.19 168.54h4.4M468.19 184.54h4.4M473.92 171.21H491.87M482.89 162.77V179.64M473.92 169.01v4.4M491.87 169.01v4.4M480.69 162.77h4.4M480.69 179.64h4.4M468.82 174.84H484.46M476.64 162.89V186.79M468.82 172.64v4.4M484.46 172.64v4.4M474.44 162.89h4.4M474.44 186.79h4.4M480.29 187.22H497.99M489.14 180.01V194.43M480.29 185.02v4.4M497.99 185.02v4.4M486.94 180.01h4.4M486.94 194.43h4.4M465.95 160.71H481.08M473.52 150.7V170.72M465.95 158.51v4.4M481.08 158.51v4.4M471.32 150.7h4.4M471.32 170.72h4.4M477.91 175.15H494.12M486.02 166.47V183.83M477.91 172.95v4.4M494.12 172.95v4.4M483.82 166.47h4.4M483.82 183.83h4.4M472.78 179.01H486.75M479.77 171.99V186.04M472.78 176.81v4.4M486.75 176.81v4.4M477.57 171.99h4.4M477.57 186.04h4.4M486.16 172.21H498.37M492.27 162.46V181.96M486.16 170.01v4.4M498.37 170.01v4.4M490.07 162.46h4.4M490.07 181.96h4.4M465.73 171.47H478.18M471.95 163.46V179.48M465.73 169.27v4.4M478.18 169.27v4.4M469.75 163.46h4.4M469.75 179.48h4.4M477.45 183.36H491.45M484.45 176V190.71M477.45 181.16v4.4M491.45 181.16v4.4M482.25 176h4.4M482.25 190.71h4.4M472.11 170.07H484.3M478.2 158.44V181.71M472.11 167.87v4.4M484.3 167.87v4.4M476 158.44h4.4M476 181.71h4.4M483.4 180.54H498.01M490.7 172.52V188.57M483.4 178.34v4.4M498.01 178.34v4.4M488.5 172.52h4.4M488.5 188.57h4.4M466.95 183.74H483.2M475.08 176.69V190.78M466.95 181.54v4.4M483.2 181.54v4.4M472.88 176.69h4.4M472.88 190.78h4.4M480.84 168.17H494.31M487.58 156.37V179.98M480.84 165.97v4.4M494.31 165.97v4.4M485.38 156.37h4.4M485.38 179.98h4.4M472.64 174.29H490.02M481.33 164.11V184.47M472.64 172.09v4.4M490.02 172.09v4.4M479.13 164.11h4.4M479.13 184.47h4.4M487.55 184.43H500.11M493.83 175.84V193.02M487.55 182.23v4.4M500.11 182.23v4.4M491.63 175.84h4.4M491.63 193.02h4.4M465.09 165.28H477.26M471.17 157.19V173.38M465.09 163.08v4.4M477.26 163.08v4.4M468.97 157.19h4.4M468.97 173.38h4.4M477.6 177.06H489.75M483.67 169.43V184.69M477.6 174.86v4.4M489.75 174.86v4.4M481.47 169.43h4.4M481.47 184.69h4.4M469.52 181.68H485.32M477.42 174.18V189.18M469.52 179.48v4.4M485.32 179.48v4.4M475.22 174.18h4.4M475.22 189.18h4.4M483.45 174.94H496.39M489.92 163.43V186.45M483.45 172.74v4.4M496.39 172.74v4.4M487.72 163.43h4.4M487.72 186.45h4.4M467.29 175.16H481.3M474.3 166.49V183.82M467.29 172.96v4.4M481.3 172.96v4.4M472.1 166.49h4.4M472.1 183.82h4.4M480.54 191.23H493.06M486.8 180.25V202.21M480.54 189.03v4.4M493.06 189.03v4.4M484.6 180.25h4.4M484.6 202.21h4.4M472.52 161.6H488.58M480.55 151.87V171.34M472.52 159.4v4.4M488.58 159.4v4.4M478.35 151.87h4.4M478.35 171.34h4.4M485.19 176.85H500.9M493.05 169.35V184.35M485.19 174.65v4.4M500.9 174.65v4.4M490.85 169.35h4.4M490.85 184.35h4.4M465.95 175.42H479.52M472.73 165.5V185.34M465.95 173.22v4.4M479.52 173.22v4.4M470.53 165.5h4.4M470.53 185.34h4.4M476.38 169.3H494.09M485.23 158.21V180.39M476.38 167.1v4.4M494.09 167.1v4.4M483.03 158.21h4.4M483.03 180.39h4.4M471.06 174.13H486.91M478.98 164.54V183.73M471.06 171.93v4.4M486.91 171.93v4.4M476.78 164.54h4.4M476.78 183.73h4.4M511.3 191.68H523.39M517.34 180.23V203.14M511.3 189.48v4.4M523.39 189.48v4.4M515.14 180.23h4.4M515.14 203.14h4.4M494.89 177.43H507.29M501.09 169.78V185.07M494.89 175.23v4.4M507.29 175.23v4.4M498.89 169.78h4.4M498.89 185.07h4.4M506.01 186.72H522.17M514.09 175.66V197.78M506.01 184.52v4.4M522.17 184.52v4.4M511.89 175.66h4.4M511.89 197.78h4.4M499.23 192.74H515.95M507.59 183.47V202M499.23 190.54v4.4M515.95 190.54v4.4M505.39 183.47h4.4M505.39 202h4.4M514.06 176.89H527.12M520.59 169.72V184.07M514.06 174.69v4.4M527.12 174.69v4.4M518.39 169.72h4.4M518.39 184.07h4.4M486.65 178.33H503.76M495.2 166.44V190.22M486.65 176.13v4.4M503.76 176.13v4.4M493 166.44h4.4M493 190.22h4.4M501.47 188H514.94M508.2 176.67V199.33M501.47 185.8v4.4M514.94 185.8v4.4M506 176.67h4.4M506 199.33h4.4M494.5 175.93H508.91M501.7 167.38V184.49M494.5 173.73v4.4M508.91 173.73v4.4M499.5 167.38h4.4M499.5 184.49h4.4M507.19 185.65H522.22M514.7 178.61V192.69M507.19 183.45v4.4M522.22 183.45v4.4M512.5 178.61h4.4M512.5 192.69h4.4M491.12 187.51H505.78M498.45 179.52V195.51M491.12 185.31v4.4M505.78 185.31v4.4M496.25 179.52h4.4M496.25 195.51h4.4M503.32 181.08H519.59M511.45 171.57V190.6M503.32 178.88v4.4M519.59 178.88v4.4M509.25 171.57h4.4M509.25 190.6h4.4M496.35 185H513.56M504.95 173.52V196.49M496.35 182.8v4.4M513.56 182.8v4.4M502.75 173.52h4.4M502.75 196.49h4.4M511 197.03H524.9M517.95 188.63V205.43M511 194.83v4.4M524.9 194.83v4.4M515.75 188.63h4.4M515.75 205.43h4.4M488.01 172.19H505.65M496.83 162.67V181.71M488.01 169.99v4.4M505.65 169.99v4.4M494.63 162.67h4.4M494.63 181.71h4.4M503.54 183.31H516.12M509.83 176.08V190.54M503.54 181.11v4.4M516.12 181.11v4.4M507.63 176.08h4.4M507.63 190.54h4.4M494.36 187.27H512.3M503.33 177.37V197.16M494.36 185.07v4.4M512.3 185.07v4.4M501.13 177.37h4.4M501.13 197.16h4.4M510.16 180.68H522.49M516.33 171.12V190.23M510.16 178.48v4.4M522.49 178.48v4.4M514.13 171.12h4.4M514.13 190.23h4.4M492.57 182.27H507.59M500.08 173.09V191.44M492.57 180.07v4.4M507.59 180.07v4.4M497.88 173.09h4.4M497.88 191.44h4.4M504.22 192.7H521.93M513.08 180.95V204.44M504.22 190.5v4.4M521.93 190.5v4.4M510.88 180.95h4.4M510.88 204.44h4.4M500.2 180.54H512.95M506.58 172.78V188.3M500.2 178.34v4.4M512.95 178.34v4.4M504.38 172.78h4.4M504.38 188.3h4.4M512.36 189.25H526.8M519.58 178.08V200.42M512.36 187.05v4.4M526.8 187.05v4.4M517.38 178.08h4.4M517.38 200.42h4.4M488.14 194.61H503.89M496.02 183.96V205.26M488.14 192.41v4.4M503.89 192.41v4.4M493.82 183.96h4.4M493.82 205.26h4.4M501.29 169.93H516.74M509.02 161.88V177.98M501.29 167.73v4.4M516.74 167.73v4.4M506.82 161.88h4.4M506.82 177.98h4.4M494.06 179.59H510.97M502.52 172.52V186.66M494.06 177.39v4.4M510.97 177.39v4.4M500.32 172.52h4.4M500.32 186.66h4.4M507.42 188.61H523.61M515.52 180.64V196.58M507.42 186.41v4.4M523.61 186.41v4.4M513.32 180.64h4.4M513.32 196.58h4.4M491.85 173.52H506.68M499.27 161.64V185.39M491.85 171.32v4.4M506.68 171.32v4.4M497.07 161.64h4.4M497.07 185.39h4.4M504.65 184.14H519.88M512.27 176.86V191.43M504.65 181.94v4.4M519.88 181.94v4.4M510.07 176.86h4.4M510.07 191.43h4.4M498.48 188.37H513.05M505.77 178.07V198.67M498.48 186.17v4.4M513.05 186.17v4.4M503.57 178.07h4.4M503.57 198.67h4.4M512.6 181.6H524.94M518.77 173.34V189.87M512.6 179.4v4.4M524.94 179.4v4.4M516.57 173.34h4.4M516.57 189.87h4.4M491.59 181.79H503.7M497.64 172.09V191.49M491.59 179.59v4.4M503.7 179.59v4.4M495.44 172.09h4.4M495.44 191.49h4.4M503.5 192.69H517.79M510.64 183.17V202.21M503.5 190.49v4.4M517.79 190.49v4.4M508.44 183.17h4.4M508.44 202.21h4.4M497.25 171.52H511.03M504.14 161.23V181.8M497.25 169.32v4.4M511.03 169.32v4.4M501.94 161.23h4.4M501.94 181.8h4.4M510.62 184.03H523.66M517.14 172.5V195.56M510.62 181.83v4.4M523.66 181.83v4.4M514.94 172.5h4.4M514.94 195.56h4.4M492.01 185.37H509.77M500.89 175.9V194.83M492.01 183.17v4.4M509.77 183.17v4.4M498.69 175.9h4.4M498.69 194.83h4.4M506.49 178.69H521.29M513.89 167.39V189.98M506.49 176.49v4.4M521.29 176.49v4.4M511.69 167.39h4.4M511.69 189.98h4.4M500.52 183.58H514.26M507.39 172.56V194.59M500.52 181.38v4.4M514.26 181.38v4.4M505.19 172.56h4.4M505.19 194.59h4.4M513.53 192.78H527.25M520.39 182.18V203.38M513.53 190.58v4.4M527.25 190.58v4.4M518.19 182.18h4.4M518.19 203.38h4.4M488.61 176.07H502.61M495.61 166.06V186.09M488.61 173.87v4.4M502.61 173.87v4.4M493.41 166.06h4.4M493.41 186.09h4.4M499.83 185.73H517.39M508.61 178.46V193M499.83 183.53v4.4M517.39 183.53v4.4M506.41 178.46h4.4M506.41 193h4.4M493.69 191.78H510.53M502.11 182.07V201.49M493.69 189.58v4.4M510.53 189.58v4.4M499.91 182.07h4.4M499.91 201.49h4.4" stroke="#000" stroke-width="1.05" fill="none"/><path d="M437.1 130.5a1.6 1.6 0 1 0 0.01 0zM445.8 138.1a1.6 1.6 0 1 0 0.01 0zM436 135.4a1.6 1.6 0 1 0 0.01 0zM430.6 144.6a1.6 1.6 0 1 0 0.01 0zM419.8 148.9a1.6 1.6 0 1 0 0.01 0zM428.39 153.2a1.6 1.6 0 1 0 0.01 0zM431.69 160.8a1.6 1.6 0 1 0 0.01 0zM468.5 151.1a1.6 1.6 0 1 0 0.01 0zM517.29 156.1a1.6 1.6 0 1 0 0.01 0zM523.79 163a1.6 1.6 0 1 0 0.01 0zM520.5 174.9a1.6 1.6 0 1 0 0.01 0zM524.79 185.7a1.6 1.6 0 1 0 0.01 0zM468.5 181.4a1.6 1.6 0 1 0 0.01 0zM462 174.9a1.6 1.6 0 1 0 0.01 0zM492.3 198.7a1.6 1.6 0 1 0 0.01 0zM505.3 198.7a1.6 1.6 0 1 0 0.01 0zM432.5 149.59a1.6 1.6 0 1 0 0.01 0zM426.25 154.02a1.6 1.6 0 1 0 0.01 0zM438.75 145.91a1.6 1.6 0 1 0 0.01 0zM423.12 148.25a1.6 1.6 0 1 0 0.01 0zM435.62 160.47a1.6 1.6 0 1 0 0.01 0zM429.37 145.66a1.6 1.6 0 1 0 0.01 0zM466.87 168.86a1.6 1.6 0 1 0 0.01 0zM446.56 168.75a1.6 1.6 0 1 0 0.01 0zM459.06 150.02a1.6 1.6 0 1 0 0.01 0zM452.81 158.98a1.6 1.6 0 1 0 0.01 0zM465.31 171.34a1.6 1.6 0 1 0 0.01 0zM449.68 151.95a1.6 1.6 0 1 0 0.01 0zM462.18 165.31a1.6 1.6 0 1 0 0.01 0zM455.93 170.12a1.6 1.6 0 1 0 0.01 0zM468.43 163.27a1.6 1.6 0 1 0 0.01 0zM445.78 160.53a1.6 1.6 0 1 0 0.01 0zM458.28 175.53a1.6 1.6 0 1 0 0.01 0zM452.03 149.73a1.6 1.6 0 1 0 0.01 0zM464.53 164.84a1.6 1.6 0 1 0 0.01 0zM448.9 165.14a1.6 1.6 0 1 0 0.01 0zM461.4 158.17a1.6 1.6 0 1 0 0.01 0zM455.15 162.99a1.6 1.6 0 1 0 0.01 0zM467.65 176.44a1.6 1.6 0 1 0 0.01 0zM447.34 155.03a1.6 1.6 0 1 0 0.01 0zM459.84 167.3a1.6 1.6 0 1 0 0.01 0zM453.59 176.25a1.6 1.6 0 1 0 0.01 0zM491.09 161.8a1.6 1.6 0 1 0 0.01 0zM475.46 168.75a1.6 1.6 0 1 0 0.01 0zM487.96 179.49a1.6 1.6 0 1 0 0.01 0zM481.71 166.17a1.6 1.6 0 1 0 0.01 0zM494.21 177.4a1.6 1.6 0 1 0 0.01 0zM470.39 174.94a1.6 1.6 0 1 0 0.01 0zM482.89 169.61a1.6 1.6 0 1 0 0.01 0zM476.64 173.24a1.6 1.6 0 1 0 0.01 0zM489.14 185.62a1.6 1.6 0 1 0 0.01 0zM473.51 159.11a1.6 1.6 0 1 0 0.01 0zM486.01 173.55a1.6 1.6 0 1 0 0.01 0zM479.76 177.41a1.6 1.6 0 1 0 0.01 0zM492.26 170.61a1.6 1.6 0 1 0 0.01 0zM471.95 169.87a1.6 1.6 0 1 0 0.01 0zM484.45 181.76a1.6 1.6 0 1 0 0.01 0zM478.2 168.47a1.6 1.6 0 1 0 0.01 0zM490.7 178.94a1.6 1.6 0 1 0 0.01 0zM475.07 182.14a1.6 1.6 0 1 0 0.01 0zM487.57 166.57a1.6 1.6 0 1 0 0.01 0zM481.32 172.69a1.6 1.6 0 1 0 0.01 0zM493.82 182.83a1.6 1.6 0 1 0 0.01 0zM471.17 163.68a1.6 1.6 0 1 0 0.01 0zM483.67 175.46a1.6 1.6 0 1 0 0.01 0zM477.42 180.08a1.6 1.6 0 1 0 0.01 0zM489.92 173.34a1.6 1.6 0 1 0 0.01 0zM474.29 173.56a1.6 1.6 0 1 0 0.01 0zM486.79 189.63a1.6 1.6 0 1 0 0.01 0zM480.54 160a1.6 1.6 0 1 0 0.01 0zM493.04 175.25a1.6 1.6 0 1 0 0.01 0zM472.73 173.82a1.6 1.6 0 1 0 0.01 0zM485.23 167.7a1.6 1.6 0 1 0 0.01 0zM478.98 172.53a1.6 1.6 0 1 0 0.01 0zM517.34 190.08a1.6 1.6 0 1 0 0.01 0zM501.09 175.83a1.6 1.6 0 1 0 0.01 0zM514.09 185.12a1.6 1.6 0 1 0 0.01 0zM507.59 191.14a1.6 1.6 0 1 0 0.01 0zM520.59 175.29a1.6 1.6 0 1 0 0.01 0zM495.2 176.73a1.6 1.6 0 1 0 0.01 0zM508.2 186.4a1.6 1.6 0 1 0 0.01 0zM501.7 174.33a1.6 1.6 0 1 0 0.01 0zM514.7 184.05a1.6 1.6 0 1 0 0.01 0zM498.45 185.91a1.6 1.6 0 1 0 0.01 0zM511.45 179.48a1.6 1.6 0 1 0 0.01 0zM504.95 183.4a1.6 1.6 0 1 0 0.01 0zM517.95 195.43a1.6 1.6 0 1 0 0.01 0zM496.82 170.59a1.6 1.6 0 1 0 0.01 0zM509.82 181.71a1.6 1.6 0 1 0 0.01 0zM503.32 185.67a1.6 1.6 0 1 0 0.01 0zM516.32 179.08a1.6 1.6 0 1 0 0.01 0zM500.07 180.67a1.6 1.6 0 1 0 0.01 0zM513.07 191.1a1.6 1.6 0 1 0 0.01 0zM506.57 178.94a1.6 1.6 0 1 0 0.01 0zM519.57 187.65a1.6 1.6 0 1 0 0.01 0zM496.01 193.01a1.6 1.6 0 1 0 0.01 0zM509.01 168.33a1.6 1.6 0 1 0 0.01 0zM502.51 177.99a1.6 1.6 0 1 0 0.01 0zM515.51 187.01a1.6 1.6 0 1 0 0.01 0zM499.26 171.92a1.6 1.6 0 1 0 0.01 0zM512.26 182.54a1.6 1.6 0 1 0 0.01 0zM505.76 186.77a1.6 1.6 0 1 0 0.01 0zM518.76 180a1.6 1.6 0 1 0 0.01 0zM497.64 180.19a1.6 1.6 0 1 0 0.01 0zM510.64 191.09a1.6 1.6 0 1 0 0.01 0zM504.14 169.92a1.6 1.6 0 1 0 0.01 0zM517.14 182.43a1.6 1.6 0 1 0 0.01 0zM500.89 183.77a1.6 1.6 0 1 0 0.01 0zM513.89 177.09a1.6 1.6 0 1 0 0.01 0zM507.39 181.98a1.6 1.6 0 1 0 0.01 0zM520.39 191.18a1.6 1.6 0 1 0 0.01 0zM495.6 174.47a1.6 1.6 0 1 0 0.01 0zM508.6 184.13a1.6 1.6 0 1 0 0.01 0zM502.1 190.18a1.6 1.6 0 1 0 0.01 0z" fill="#000"/>
<path d="M357.3 151.5 L428 151.2 L433 151.6 L438 152.9 L447 157 L463.9 165.5 L480.8 175.7 L494.4 184.2 L499.5 189.2 L501.2 194.3 L506.3 201.1 L510 206.2 L511.8 211.2 L515.1 219.5" fill="none" stroke="#c01c1c" stroke-width="1.7" stroke-linejoin="round"/>
<path d="M348 158.8 L410 176.1 L430 180.8 L463.9 189.2 L489.3 194.3 L501.2 199.4 L508 206.2 L509.7 209 L507.5 217.7 L507.2 219.5" fill="none" stroke="#18188e" stroke-width="1.5" stroke-dasharray="1.5 2.75"/>
<rect x="347.6" y="220" width="243.9" height="106.63" fill="none" stroke="#222" stroke-width="1.25" stroke-linejoin="round"/>
<path d="M347.6 312.72h5.2M591.5 312.72h-5.2M347.6 289.54h5.2M591.5 289.54h-5.2M347.6 266.36h5.2M591.5 266.36h-5.2M347.6 243.18h5.2M591.5 243.18h-5.2M382.44 326.63v-5.2M382.44 220v5.2M417.29 326.63v-5.2M417.29 220v5.2M452.13 326.63v-5.2M452.13 220v5.2M486.97 326.63v-5.2M486.97 220v5.2M521.81 326.63v-5.2M521.81 220v5.2M556.66 326.63v-5.2M556.66 220v5.2" stroke="#222" stroke-width="1.1" fill="none"/>
<text x="341" y="247.18" font-size="10.8" text-anchor="end">1.0</text>
<text x="341" y="270.36" font-size="10.8" text-anchor="end">0.5</text>
<text x="341" y="293.54" font-size="10.8" text-anchor="end">0.0</text>
<text x="341" y="316.72" font-size="10.8" text-anchor="end">-0.5</text>
<text x="364.4" y="239.4" font-size="15.4" text-anchor="start">Leo II</text>
<path d="M442.7 238.2H459.7M451.2 228.7V247.7M442.7 236v4.4M459.7 236v4.4M449 228.7h4.4M449 247.7h4.4M472.3 257.3H486.3M479.3 244.8V269.8M472.3 255.1v4.4M486.3 255.1v4.4M477.1 244.8h4.4M477.1 269.8h4.4M483.2 256.2H500.2M491.7 242.2V270.2M483.2 254v4.4M500.2 254v4.4M489.5 242.2h4.4M489.5 270.2h4.4M451.1 262H467.1M459.1 252.5V271.5M451.1 259.8v4.4M467.1 259.8v4.4M456.9 252.5h4.4M456.9 271.5h4.4M450.4 266.5H466.4M458.4 257.5V275.5M450.4 264.3v4.4M466.4 264.3v4.4M456.2 257.5h4.4M456.2 275.5h4.4M461.1 271.9H475.1M468.1 262.9V280.9M461.1 269.7v4.4M475.1 269.7v4.4M465.9 262.9h4.4M465.9 280.9h4.4M466.3 269.6H480.3M473.3 260.6V278.6M466.3 267.4v4.4M480.3 267.4v4.4M471.1 260.6h4.4M471.1 278.6h4.4M499.4 277.1H515.4M507.4 267.1V287.1M499.4 274.9v4.4M515.4 274.9v4.4M505.2 267.1h4.4M505.2 287.1h4.4M460.8 293.9H476.8M468.8 281.9V305.9M460.8 291.7v4.4M476.8 291.7v4.4M466.6 281.9h4.4M466.6 305.9h4.4M473 295H487M480 286V304M473 292.8v4.4M487 292.8v4.4M477.8 286h4.4M477.8 304h4.4M493.7 296.2H507.7M500.7 285.2V307.2M493.7 294v4.4M507.7 294v4.4M498.5 285.2h4.4M498.5 307.2h4.4M483.8 286.64H495.21M489.5 278.61V294.67M483.8 284.44v4.4M495.21 284.44v4.4M487.3 278.61h4.4M487.3 294.67h4.4M489.68 264.92H504.7M497.19 254.08V275.77M489.68 262.72v4.4M504.7 262.72v4.4M494.99 254.08h4.4M494.99 275.77h4.4M488.79 281.17H504.63M496.71 273.46V288.88M488.79 278.97v4.4M504.63 278.97v4.4M494.51 273.46h4.4M494.51 288.88h4.4M475.51 275.7H491.73M483.62 265.19V286.21M475.51 273.5v4.4M491.73 273.5v4.4M481.42 265.19h4.4M481.42 286.21h4.4M486.42 291.18H500.54M493.48 283.02V299.35M486.42 288.98v4.4M500.54 288.98v4.4M491.28 283.02h4.4M491.28 299.35h4.4M482.22 282.25H498.03M490.13 271.56V292.94M482.22 280.05v4.4M498.03 280.05v4.4M487.93 271.56h4.4M487.93 292.94h4.4M481.32 281.05H493.9M487.61 273.51V288.59M481.32 278.85v4.4M493.9 278.85v4.4M485.41 273.51h4.4M485.41 288.59h4.4M476.93 291.22H490.46M483.7 282.51V299.94M476.93 289.02v4.4M490.46 289.02v4.4M481.5 282.51h4.4M481.5 299.94h4.4M477.85 285.87H490.59M484.22 277.27V294.47M477.85 283.67v4.4M490.59 283.67v4.4M482.02 277.27h4.4M482.02 294.47h4.4M497.91 285.97H510.39M504.15 276.09V295.84M497.91 283.77v4.4M510.39 283.77v4.4M501.95 276.09h4.4M501.95 295.84h4.4M478.68 279.94H492.05M485.36 270.92V288.96M478.68 277.74v4.4M492.05 277.74v4.4M483.16 270.92h4.4M483.16 288.96h4.4M484.56 280.71H496.13M490.35 273.16V288.26M484.56 278.51v4.4M496.13 278.51v4.4M488.15 273.16h4.4M488.15 288.26h4.4M468.07 285.97H480.88M474.47 275.14V296.81M468.07 283.77v4.4M480.88 283.77v4.4M472.27 275.14h4.4M472.27 296.81h4.4M482.32 285.18H494.6M488.46 277.84V292.53M482.32 282.98v4.4M494.6 282.98v4.4M486.26 277.84h4.4M486.26 292.53h4.4M476.08 266.67H488.99M482.54 259.23V274.1M476.08 264.47v4.4M488.99 264.47v4.4M480.34 259.23h4.4M480.34 274.1h4.4M475.42 288.21H489.79M482.6 280.66V295.76M475.42 286.01v4.4M489.79 286.01v4.4M480.4 280.66h4.4M480.4 295.76h4.4M480.98 282.52H494.55M487.76 272.07V292.98M480.98 280.32v4.4M494.55 280.32v4.4M485.56 272.07h4.4M485.56 292.98h4.4M485.52 283.99H497.21M491.36 274.74V293.25M485.52 281.79v4.4M497.21 281.79v4.4M489.16 274.74h4.4M489.16 293.25h4.4M482.01 289.66H494.55M488.28 278.69V300.62M482.01 287.46v4.4M494.55 287.46v4.4M486.08 278.69h4.4M486.08 300.62h4.4M469.37 280.63H482.86M476.12 270.51V290.74M469.37 278.43v4.4M482.86 278.43v4.4M473.92 270.51h4.4M473.92 290.74h4.4M476.8 280.87H492.11M484.45 271.81V289.94M476.8 278.67v4.4M492.11 278.67v4.4M482.25 271.81h4.4M482.25 289.94h4.4M500.19 292.16H513.98M507.08 284.02V300.3M500.19 289.96v4.4M513.98 289.96v4.4M504.88 284.02h4.4M504.88 300.3h4.4M479.58 291.04H494.75M487.17 282.4V299.67M479.58 288.84v4.4M494.75 288.84v4.4M484.97 282.4h4.4M484.97 299.67h4.4M490.6 289.92H501.78M496.19 278.94V300.9M490.6 287.72v4.4M501.78 287.72v4.4M493.99 278.94h4.4M493.99 300.9h4.4M482.81 283.51H496.79M489.8 276.31V290.7M482.81 281.31v4.4M496.79 281.31v4.4M487.6 276.31h4.4M487.6 290.7h4.4M486.88 289.41H500.08M493.48 281.19V297.63M486.88 287.21v4.4M500.08 287.21v4.4M491.28 281.19h4.4M491.28 297.63h4.4M483.09 291.35H499.71M491.4 283.03V299.66M483.09 289.15v4.4M499.71 289.15v4.4M489.2 283.03h4.4M489.2 299.66h4.4M485.57 286.45H498.8M492.19 275.61V297.29M485.57 284.25v4.4M498.8 284.25v4.4M489.99 275.61h4.4M489.99 297.29h4.4M478.92 281.47H493.84M486.38 273.29V289.64M478.92 279.27v4.4M493.84 279.27v4.4M484.18 273.29h4.4M484.18 289.64h4.4M488.48 288.36H504.85M496.66 281.03V295.69M488.48 286.16v4.4M504.85 286.16v4.4M494.46 281.03h4.4M494.46 295.69h4.4M480.59 287H494.29M487.44 279.41V294.59M480.59 284.8v4.4M494.29 284.8v4.4M485.24 279.41h4.4M485.24 294.59h4.4M489.74 282.44H504.03M496.88 272.47V292.42M489.74 280.24v4.4M504.03 280.24v4.4M494.68 272.47h4.4M494.68 292.42h4.4M490.12 283.6H504.67M497.4 272.66V294.53M490.12 281.4v4.4M504.67 281.4v4.4M495.2 272.66h4.4M495.2 294.53h4.4M484.36 288.51H495.94M490.15 278.01V299M484.36 286.31v4.4M495.94 286.31v4.4M487.95 278.01h4.4M487.95 299h4.4M483.39 288.11H499.12M491.26 277.63V298.58M483.39 285.91v4.4M499.12 285.91v4.4M489.06 277.63h4.4M489.06 298.58h4.4M489.06 284.25H501.24M495.15 276.18V292.31M489.06 282.05v4.4M501.24 282.05v4.4M492.95 276.18h4.4M492.95 292.31h4.4M486.85 280.99H501.62M494.24 270.26V291.71M486.85 278.79v4.4M501.62 278.79v4.4M492.04 270.26h4.4M492.04 291.71h4.4M488.69 292.21H501.86M495.28 281.94V302.48M488.69 290.01v4.4M501.86 290.01v4.4M493.08 281.94h4.4M493.08 302.48h4.4M489.64 287.3H505.2M497.42 277.68V296.92M489.64 285.1v4.4M505.2 285.1v4.4M495.22 277.68h4.4M495.22 296.92h4.4M492.15 281.58H505.92M499.04 271.06V292.1M492.15 279.38v4.4M505.92 279.38v4.4M496.84 271.06h4.4M496.84 292.1h4.4" stroke="#000" stroke-width="1.05" fill="none"/><path d="M451.19 236.6a1.6 1.6 0 1 0 0.01 0zM479.3 255.7a1.6 1.6 0 1 0 0.01 0zM491.69 254.6a1.6 1.6 0 1 0 0.01 0zM459.1 260.4a1.6 1.6 0 1 0 0.01 0zM458.39 264.9a1.6 1.6 0 1 0 0.01 0zM468.1 270.3a1.6 1.6 0 1 0 0.01 0zM473.3 268a1.6 1.6 0 1 0 0.01 0zM507.39 275.5a1.6 1.6 0 1 0 0.01 0zM468.8 292.3a1.6 1.6 0 1 0 0.01 0zM480 293.4a1.6 1.6 0 1 0 0.01 0zM500.69 294.6a1.6 1.6 0 1 0 0.01 0zM489.5 285.04a1.6 1.6 0 1 0 0.01 0zM497.19 263.32a1.6 1.6 0 1 0 0.01 0zM496.71 279.57a1.6 1.6 0 1 0 0.01 0zM483.62 274.1a1.6 1.6 0 1 0 0.01 0zM493.47 289.58a1.6 1.6 0 1 0 0.01 0zM490.12 280.65a1.6 1.6 0 1 0 0.01 0zM487.6 279.45a1.6 1.6 0 1 0 0.01 0zM483.69 289.62a1.6 1.6 0 1 0 0.01 0zM484.22 284.27a1.6 1.6 0 1 0 0.01 0zM504.14 284.37a1.6 1.6 0 1 0 0.01 0zM485.36 278.34a1.6 1.6 0 1 0 0.01 0zM490.34 279.11a1.6 1.6 0 1 0 0.01 0zM474.47 284.37a1.6 1.6 0 1 0 0.01 0zM488.46 283.58a1.6 1.6 0 1 0 0.01 0zM482.53 265.07a1.6 1.6 0 1 0 0.01 0zM482.6 286.61a1.6 1.6 0 1 0 0.01 0zM487.76 280.92a1.6 1.6 0 1 0 0.01 0zM491.36 282.39a1.6 1.6 0 1 0 0.01 0zM488.27 288.06a1.6 1.6 0 1 0 0.01 0zM476.11 279.03a1.6 1.6 0 1 0 0.01 0zM484.45 279.27a1.6 1.6 0 1 0 0.01 0zM507.08 290.56a1.6 1.6 0 1 0 0.01 0zM487.16 289.44a1.6 1.6 0 1 0 0.01 0zM496.19 288.32a1.6 1.6 0 1 0 0.01 0zM489.8 281.91a1.6 1.6 0 1 0 0.01 0zM493.47 287.81a1.6 1.6 0 1 0 0.01 0zM491.39 289.75a1.6 1.6 0 1 0 0.01 0zM492.18 284.85a1.6 1.6 0 1 0 0.01 0zM486.37 279.87a1.6 1.6 0 1 0 0.01 0zM496.66 286.76a1.6 1.6 0 1 0 0.01 0zM487.44 285.4a1.6 1.6 0 1 0 0.01 0zM496.88 280.84a1.6 1.6 0 1 0 0.01 0zM497.39 282a1.6 1.6 0 1 0 0.01 0zM490.15 286.91a1.6 1.6 0 1 0 0.01 0zM491.25 286.51a1.6 1.6 0 1 0 0.01 0zM495.14 282.65a1.6 1.6 0 1 0 0.01 0zM494.23 279.39a1.6 1.6 0 1 0 0.01 0zM495.27 290.61a1.6 1.6 0 1 0 0.01 0zM497.42 285.7a1.6 1.6 0 1 0 0.01 0zM499.03 279.98a1.6 1.6 0 1 0 0.01 0z" fill="#000"/>
<path d="M348.3 258.3 L392.5 258.3 L396.7 259.2 L405 262.5 L430 271.7 L455 281.7 L471.7 287.5 L480 290.8 L485 293.9 L491.7 298.4 L500.7 300.7 L513 307.4 L532.1 323.1 L528.8 325.9" fill="none" stroke="#c01c1c" stroke-width="1.7" stroke-linejoin="round"/>
<path d="M348 275.8 L395 288.3 L443 298 L485 305.1 L511.9 308.5 L529.9 316.4 L547.9 325.9" fill="none" stroke="#18188e" stroke-width="1.5" stroke-dasharray="1.5 2.75"/>
<rect x="347.6" y="326.62" width="243.9" height="106.63" fill="none" stroke="#222" stroke-width="1.25" stroke-linejoin="round"/>
<path d="M347.6 419.34h5.2M591.5 419.34h-5.2M347.6 396.16h5.2M591.5 396.16h-5.2M347.6 372.98h5.2M591.5 372.98h-5.2M347.6 349.8h5.2M591.5 349.8h-5.2M382.44 433.25v-5.2M382.44 326.62v5.2M417.29 433.25v-5.2M417.29 326.62v5.2M452.13 433.25v-5.2M452.13 326.62v5.2M486.97 433.25v-5.2M486.97 326.62v5.2M521.81 433.25v-5.2M521.81 326.62v5.2M556.66 433.25v-5.2M556.66 326.62v5.2" stroke="#222" stroke-width="1.1" fill="none"/>
<text x="341" y="353.8" font-size="10.8" text-anchor="end">1.0</text>
<text x="341" y="376.98" font-size="10.8" text-anchor="end">0.5</text>
<text x="341" y="400.16" font-size="10.8" text-anchor="end">0.0</text>
<text x="341" y="423.34" font-size="10.8" text-anchor="end">-0.5</text>
<text x="364.4" y="345.8" font-size="15.4" text-anchor="start">Sextans</text>
<path d="M431.1 369.5H446.3M438.7 361V378M431.1 367.3v4.4M446.3 367.3v4.4M436.5 361h4.4M436.5 378h4.4M447 359.3H464.2M455.6 346.3V372.3M447 357.1v4.4M464.2 357.1v4.4M453.4 346.3h4.4M453.4 372.3h4.4M453.7 391.8H468.9M461.3 381.8V401.8M453.7 389.6v4.4M468.9 389.6v4.4M459.1 381.8h4.4M459.1 401.8h4.4M466.8 391.8H479.8M473.3 381.8V401.8M466.8 389.6v4.4M479.8 389.6v4.4M471.1 381.8h4.4M471.1 401.8h4.4M472.9 389.8H482.9M477.9 383.8V395.8M472.9 387.6v4.4M482.9 387.6v4.4M475.7 383.8h4.4M475.7 395.8h4.4M470 398.9H485M477.5 390.9V406.9M470 396.7v4.4M485 396.7v4.4M475.3 390.9h4.4M475.3 406.9h4.4M472.9 401H484.9M478.9 394V408M472.9 398.8v4.4M484.9 398.8v4.4M476.7 394h4.4M476.7 408h4.4M476.3 410.1H482.3M479.3 407.6V412.6M476.3 407.9v4.4M482.3 407.9v4.4M477.1 407.6h4.4M477.1 412.6h4.4" stroke="#000" stroke-width="1.05" fill="none"/><path d="M438.69 367.9a1.6 1.6 0 1 0 0.01 0zM455.6 357.7a1.6 1.6 0 1 0 0.01 0zM461.3 390.2a1.6 1.6 0 1 0 0.01 0zM473.3 390.2a1.6 1.6 0 1 0 0.01 0zM477.89 388.2a1.6 1.6 0 1 0 0.01 0zM477.5 397.3a1.6 1.6 0 1 0 0.01 0zM478.89 399.4a1.6 1.6 0 1 0 0.01 0zM479.3 408.5a1.6 1.6 0 1 0 0.01 0z" fill="#000"/>
<path d="M350.8 364.6 L422.3 364.6 L432.2 369.5 L446.4 379.6 L460.7 390.8 L470.8 397.9 L477.9 405 L481 413.2 L489.1 424.3 L487.1 429.4 L488.6 432.3" fill="none" stroke="#c01c1c" stroke-width="1.7" stroke-linejoin="round"/>
<path d="M347.7 374.5 L398.3 391.9 L420 396.2 L457 405.2 L481 410.4 L499.7 422.3 L493 431.7 L492.2 433.2" fill="none" stroke="#18188e" stroke-width="1.5" stroke-dasharray="1.5 2.75"/>
<text x="77.44" y="448.6" font-size="10.8" text-anchor="middle">-3.0</text>
<text x="382.44" y="448.6" font-size="10.8" text-anchor="middle">-3.0</text>
<text x="147.13" y="448.6" font-size="10.8" text-anchor="middle">-2.0</text>
<text x="452.13" y="448.6" font-size="10.8" text-anchor="middle">-2.0</text>
<text x="216.81" y="448.6" font-size="10.8" text-anchor="middle">-1.0</text>
<text x="521.81" y="448.6" font-size="10.8" text-anchor="middle">-1.0</text>
<text x="286.5" y="448.6" font-size="10.8" text-anchor="middle">0.0</text>
<text x="591.5" y="448.6" font-size="10.8" text-anchor="middle">0.0</text>
<text x="164.8" y="468.3" font-size="15.4" text-anchor="middle">[Fe/H]</text>
<text x="469.4" y="468.3" font-size="15.4" text-anchor="middle">[Fe/H]</text>
<text x="0" y="0" font-size="15.4" text-anchor="middle" transform="translate(13.2 204) rotate(-90)">Number</text>
<text x="0" y="0" font-size="15.4" text-anchor="middle" transform="translate(312.3 206.9) rotate(-90)">[Mg/Fe]</text>
<text x="137.6" y="46.6" font-size="10" text-anchor="end" textLength="20" lengthAdjust="spacingAndGlyphs">K10</text>
<text x="137.6" y="57.6" font-size="10" text-anchor="end" textLength="80.6" lengthAdjust="spacingAndGlyphs">best-fit (0.5 Gyr)</text>
<text x="137.6" y="68.6" font-size="10" text-anchor="end" textLength="80.6" lengthAdjust="spacingAndGlyphs">best-fit (0.1 Gyr)</text>
<path d="M143.7 43.3H175.6" stroke="#000" stroke-width="1.7"/>
<path d="M143.7 54.4H175.6" stroke="#c01c1c" stroke-width="1.7"/>
<path d="M143.9 65.5H175.6" stroke="#18188e" stroke-width="1.5" stroke-dasharray="1.5 2.75"/>
</svg>
</body></html>
